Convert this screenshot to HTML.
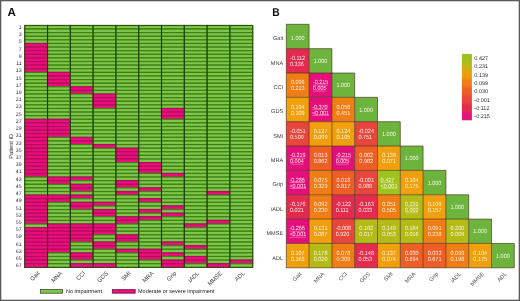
<!DOCTYPE html><html><head><meta charset="utf-8"><style>
html,body{margin:0;padding:0;background:#fff;}
svg{display:block;}
text{font-family:"Liberation Sans", sans-serif;text-rendering:geometricPrecision;}
</style></head><body>
<svg width="520" height="301" viewBox="0 0 520 301">
<rect x="0" y="0" width="520" height="301" fill="#fff"/>
<defs><filter id="soft" x="0" y="0" width="520" height="301" filterUnits="userSpaceOnUse"><feGaussianBlur stdDeviation="0.35"/></filter></defs>
<g filter="url(#soft)">
<text x="7.6" y="16.4" font-size="11.6" font-weight="bold" fill="#111">A</text>
<rect x="24.75" y="25.450" width="22.80" height="3.610" fill="#7ec54a" stroke="#3c8012" stroke-width="1.2"/>
<rect x="24.75" y="29.060" width="22.80" height="3.610" fill="#7ec54a" stroke="#3c8012" stroke-width="1.2"/>
<rect x="24.75" y="32.671" width="22.80" height="3.610" fill="#7ec54a" stroke="#3c8012" stroke-width="1.2"/>
<rect x="24.75" y="36.281" width="22.80" height="3.610" fill="#7ec54a" stroke="#3c8012" stroke-width="1.2"/>
<rect x="24.75" y="39.892" width="22.80" height="3.610" fill="#7ec54a" stroke="#3c8012" stroke-width="1.2"/>
<rect x="24.75" y="43.502" width="22.80" height="3.610" fill="#ec117c" stroke="#b00a5c" stroke-width="1.2"/>
<rect x="24.75" y="47.112" width="22.80" height="3.610" fill="#ec117c" stroke="#b00a5c" stroke-width="1.2"/>
<rect x="24.75" y="50.723" width="22.80" height="3.610" fill="#ec117c" stroke="#b00a5c" stroke-width="1.2"/>
<rect x="24.75" y="54.333" width="22.80" height="3.610" fill="#ec117c" stroke="#b00a5c" stroke-width="1.2"/>
<rect x="24.75" y="57.944" width="22.80" height="3.610" fill="#ec117c" stroke="#b00a5c" stroke-width="1.2"/>
<rect x="24.75" y="61.554" width="22.80" height="3.610" fill="#ec117c" stroke="#b00a5c" stroke-width="1.2"/>
<rect x="24.75" y="65.164" width="22.80" height="3.610" fill="#ec117c" stroke="#b00a5c" stroke-width="1.2"/>
<rect x="24.75" y="68.775" width="22.80" height="3.610" fill="#ec117c" stroke="#b00a5c" stroke-width="1.2"/>
<rect x="24.75" y="72.385" width="22.80" height="3.610" fill="#7ec54a" stroke="#3c8012" stroke-width="1.2"/>
<rect x="24.75" y="75.996" width="22.80" height="3.610" fill="#7ec54a" stroke="#3c8012" stroke-width="1.2"/>
<rect x="24.75" y="79.606" width="22.80" height="3.610" fill="#7ec54a" stroke="#3c8012" stroke-width="1.2"/>
<rect x="24.75" y="83.216" width="22.80" height="3.610" fill="#7ec54a" stroke="#3c8012" stroke-width="1.2"/>
<rect x="24.75" y="86.827" width="22.80" height="3.610" fill="#7ec54a" stroke="#3c8012" stroke-width="1.2"/>
<rect x="24.75" y="90.437" width="22.80" height="3.610" fill="#7ec54a" stroke="#3c8012" stroke-width="1.2"/>
<rect x="24.75" y="94.048" width="22.80" height="3.610" fill="#7ec54a" stroke="#3c8012" stroke-width="1.2"/>
<rect x="24.75" y="97.658" width="22.80" height="3.610" fill="#7ec54a" stroke="#3c8012" stroke-width="1.2"/>
<rect x="24.75" y="101.268" width="22.80" height="3.610" fill="#7ec54a" stroke="#3c8012" stroke-width="1.2"/>
<rect x="24.75" y="104.879" width="22.80" height="3.610" fill="#7ec54a" stroke="#3c8012" stroke-width="1.2"/>
<rect x="24.75" y="108.489" width="22.80" height="3.610" fill="#7ec54a" stroke="#3c8012" stroke-width="1.2"/>
<rect x="24.75" y="112.100" width="22.80" height="3.610" fill="#7ec54a" stroke="#3c8012" stroke-width="1.2"/>
<rect x="24.75" y="115.710" width="22.80" height="3.610" fill="#7ec54a" stroke="#3c8012" stroke-width="1.2"/>
<rect x="24.75" y="119.320" width="22.80" height="3.610" fill="#ec117c" stroke="#b00a5c" stroke-width="1.2"/>
<rect x="24.75" y="122.931" width="22.80" height="3.610" fill="#ec117c" stroke="#b00a5c" stroke-width="1.2"/>
<rect x="24.75" y="126.541" width="22.80" height="3.610" fill="#ec117c" stroke="#b00a5c" stroke-width="1.2"/>
<rect x="24.75" y="130.152" width="22.80" height="3.610" fill="#ec117c" stroke="#b00a5c" stroke-width="1.2"/>
<rect x="24.75" y="133.762" width="22.80" height="3.610" fill="#ec117c" stroke="#b00a5c" stroke-width="1.2"/>
<rect x="24.75" y="137.372" width="22.80" height="3.610" fill="#ec117c" stroke="#b00a5c" stroke-width="1.2"/>
<rect x="24.75" y="140.983" width="22.80" height="3.610" fill="#ec117c" stroke="#b00a5c" stroke-width="1.2"/>
<rect x="24.75" y="144.593" width="22.80" height="3.610" fill="#ec117c" stroke="#b00a5c" stroke-width="1.2"/>
<rect x="24.75" y="148.204" width="22.80" height="3.610" fill="#ec117c" stroke="#b00a5c" stroke-width="1.2"/>
<rect x="24.75" y="151.814" width="22.80" height="3.610" fill="#ec117c" stroke="#b00a5c" stroke-width="1.2"/>
<rect x="24.75" y="155.424" width="22.80" height="3.610" fill="#ec117c" stroke="#b00a5c" stroke-width="1.2"/>
<rect x="24.75" y="159.035" width="22.80" height="3.610" fill="#ec117c" stroke="#b00a5c" stroke-width="1.2"/>
<rect x="24.75" y="162.645" width="22.80" height="3.610" fill="#ec117c" stroke="#b00a5c" stroke-width="1.2"/>
<rect x="24.75" y="166.256" width="22.80" height="3.610" fill="#ec117c" stroke="#b00a5c" stroke-width="1.2"/>
<rect x="24.75" y="169.866" width="22.80" height="3.610" fill="#ec117c" stroke="#b00a5c" stroke-width="1.2"/>
<rect x="24.75" y="173.476" width="22.80" height="3.610" fill="#ec117c" stroke="#b00a5c" stroke-width="1.2"/>
<rect x="24.75" y="177.087" width="22.80" height="3.610" fill="#7ec54a" stroke="#3c8012" stroke-width="1.2"/>
<rect x="24.75" y="180.697" width="22.80" height="3.610" fill="#7ec54a" stroke="#3c8012" stroke-width="1.2"/>
<rect x="24.75" y="184.308" width="22.80" height="3.610" fill="#7ec54a" stroke="#3c8012" stroke-width="1.2"/>
<rect x="24.75" y="187.918" width="22.80" height="3.610" fill="#7ec54a" stroke="#3c8012" stroke-width="1.2"/>
<rect x="24.75" y="191.528" width="22.80" height="3.610" fill="#7ec54a" stroke="#3c8012" stroke-width="1.2"/>
<rect x="24.75" y="195.139" width="22.80" height="3.610" fill="#ec117c" stroke="#b00a5c" stroke-width="1.2"/>
<rect x="24.75" y="198.749" width="22.80" height="3.610" fill="#ec117c" stroke="#b00a5c" stroke-width="1.2"/>
<rect x="24.75" y="202.360" width="22.80" height="3.610" fill="#ec117c" stroke="#b00a5c" stroke-width="1.2"/>
<rect x="24.75" y="205.970" width="22.80" height="3.610" fill="#ec117c" stroke="#b00a5c" stroke-width="1.2"/>
<rect x="24.75" y="209.580" width="22.80" height="3.610" fill="#ec117c" stroke="#b00a5c" stroke-width="1.2"/>
<rect x="24.75" y="213.191" width="22.80" height="3.610" fill="#ec117c" stroke="#b00a5c" stroke-width="1.2"/>
<rect x="24.75" y="216.801" width="22.80" height="3.610" fill="#ec117c" stroke="#b00a5c" stroke-width="1.2"/>
<rect x="24.75" y="220.412" width="22.80" height="3.610" fill="#ec117c" stroke="#b00a5c" stroke-width="1.2"/>
<rect x="24.75" y="224.022" width="22.80" height="3.610" fill="#7ec54a" stroke="#3c8012" stroke-width="1.2"/>
<rect x="24.75" y="227.632" width="22.80" height="3.610" fill="#ec117c" stroke="#b00a5c" stroke-width="1.2"/>
<rect x="24.75" y="231.243" width="22.80" height="3.610" fill="#ec117c" stroke="#b00a5c" stroke-width="1.2"/>
<rect x="24.75" y="234.853" width="22.80" height="3.610" fill="#ec117c" stroke="#b00a5c" stroke-width="1.2"/>
<rect x="24.75" y="238.464" width="22.80" height="3.610" fill="#ec117c" stroke="#b00a5c" stroke-width="1.2"/>
<rect x="24.75" y="242.074" width="22.80" height="3.610" fill="#ec117c" stroke="#b00a5c" stroke-width="1.2"/>
<rect x="24.75" y="245.684" width="22.80" height="3.610" fill="#ec117c" stroke="#b00a5c" stroke-width="1.2"/>
<rect x="24.75" y="249.295" width="22.80" height="3.610" fill="#ec117c" stroke="#b00a5c" stroke-width="1.2"/>
<rect x="24.75" y="252.905" width="22.80" height="3.610" fill="#ec117c" stroke="#b00a5c" stroke-width="1.2"/>
<rect x="24.75" y="256.516" width="22.80" height="3.610" fill="#ec117c" stroke="#b00a5c" stroke-width="1.2"/>
<rect x="24.75" y="260.126" width="22.80" height="3.610" fill="#ec117c" stroke="#b00a5c" stroke-width="1.2"/>
<rect x="24.75" y="263.736" width="22.80" height="3.610" fill="#ec117c" stroke="#b00a5c" stroke-width="1.2"/>
<rect x="47.55" y="25.450" width="22.80" height="3.610" fill="#7ec54a" stroke="#3c8012" stroke-width="1.2"/>
<rect x="47.55" y="29.060" width="22.80" height="3.610" fill="#7ec54a" stroke="#3c8012" stroke-width="1.2"/>
<rect x="47.55" y="32.671" width="22.80" height="3.610" fill="#7ec54a" stroke="#3c8012" stroke-width="1.2"/>
<rect x="47.55" y="36.281" width="22.80" height="3.610" fill="#7ec54a" stroke="#3c8012" stroke-width="1.2"/>
<rect x="47.55" y="39.892" width="22.80" height="3.610" fill="#7ec54a" stroke="#3c8012" stroke-width="1.2"/>
<rect x="47.55" y="43.502" width="22.80" height="3.610" fill="#7ec54a" stroke="#3c8012" stroke-width="1.2"/>
<rect x="47.55" y="47.112" width="22.80" height="3.610" fill="#7ec54a" stroke="#3c8012" stroke-width="1.2"/>
<rect x="47.55" y="50.723" width="22.80" height="3.610" fill="#7ec54a" stroke="#3c8012" stroke-width="1.2"/>
<rect x="47.55" y="54.333" width="22.80" height="3.610" fill="#7ec54a" stroke="#3c8012" stroke-width="1.2"/>
<rect x="47.55" y="57.944" width="22.80" height="3.610" fill="#7ec54a" stroke="#3c8012" stroke-width="1.2"/>
<rect x="47.55" y="61.554" width="22.80" height="3.610" fill="#7ec54a" stroke="#3c8012" stroke-width="1.2"/>
<rect x="47.55" y="65.164" width="22.80" height="3.610" fill="#7ec54a" stroke="#3c8012" stroke-width="1.2"/>
<rect x="47.55" y="68.775" width="22.80" height="3.610" fill="#7ec54a" stroke="#3c8012" stroke-width="1.2"/>
<rect x="47.55" y="72.385" width="22.80" height="3.610" fill="#ec117c" stroke="#b00a5c" stroke-width="1.2"/>
<rect x="47.55" y="75.996" width="22.80" height="3.610" fill="#ec117c" stroke="#b00a5c" stroke-width="1.2"/>
<rect x="47.55" y="79.606" width="22.80" height="3.610" fill="#ec117c" stroke="#b00a5c" stroke-width="1.2"/>
<rect x="47.55" y="83.216" width="22.80" height="3.610" fill="#ec117c" stroke="#b00a5c" stroke-width="1.2"/>
<rect x="47.55" y="86.827" width="22.80" height="3.610" fill="#7ec54a" stroke="#3c8012" stroke-width="1.2"/>
<rect x="47.55" y="90.437" width="22.80" height="3.610" fill="#7ec54a" stroke="#3c8012" stroke-width="1.2"/>
<rect x="47.55" y="94.048" width="22.80" height="3.610" fill="#7ec54a" stroke="#3c8012" stroke-width="1.2"/>
<rect x="47.55" y="97.658" width="22.80" height="3.610" fill="#7ec54a" stroke="#3c8012" stroke-width="1.2"/>
<rect x="47.55" y="101.268" width="22.80" height="3.610" fill="#7ec54a" stroke="#3c8012" stroke-width="1.2"/>
<rect x="47.55" y="104.879" width="22.80" height="3.610" fill="#7ec54a" stroke="#3c8012" stroke-width="1.2"/>
<rect x="47.55" y="108.489" width="22.80" height="3.610" fill="#7ec54a" stroke="#3c8012" stroke-width="1.2"/>
<rect x="47.55" y="112.100" width="22.80" height="3.610" fill="#7ec54a" stroke="#3c8012" stroke-width="1.2"/>
<rect x="47.55" y="115.710" width="22.80" height="3.610" fill="#7ec54a" stroke="#3c8012" stroke-width="1.2"/>
<rect x="47.55" y="119.320" width="22.80" height="3.610" fill="#ec117c" stroke="#b00a5c" stroke-width="1.2"/>
<rect x="47.55" y="122.931" width="22.80" height="3.610" fill="#ec117c" stroke="#b00a5c" stroke-width="1.2"/>
<rect x="47.55" y="126.541" width="22.80" height="3.610" fill="#ec117c" stroke="#b00a5c" stroke-width="1.2"/>
<rect x="47.55" y="130.152" width="22.80" height="3.610" fill="#ec117c" stroke="#b00a5c" stroke-width="1.2"/>
<rect x="47.55" y="133.762" width="22.80" height="3.610" fill="#ec117c" stroke="#b00a5c" stroke-width="1.2"/>
<rect x="47.55" y="137.372" width="22.80" height="3.610" fill="#7ec54a" stroke="#3c8012" stroke-width="1.2"/>
<rect x="47.55" y="140.983" width="22.80" height="3.610" fill="#7ec54a" stroke="#3c8012" stroke-width="1.2"/>
<rect x="47.55" y="144.593" width="22.80" height="3.610" fill="#7ec54a" stroke="#3c8012" stroke-width="1.2"/>
<rect x="47.55" y="148.204" width="22.80" height="3.610" fill="#7ec54a" stroke="#3c8012" stroke-width="1.2"/>
<rect x="47.55" y="151.814" width="22.80" height="3.610" fill="#7ec54a" stroke="#3c8012" stroke-width="1.2"/>
<rect x="47.55" y="155.424" width="22.80" height="3.610" fill="#7ec54a" stroke="#3c8012" stroke-width="1.2"/>
<rect x="47.55" y="159.035" width="22.80" height="3.610" fill="#7ec54a" stroke="#3c8012" stroke-width="1.2"/>
<rect x="47.55" y="162.645" width="22.80" height="3.610" fill="#7ec54a" stroke="#3c8012" stroke-width="1.2"/>
<rect x="47.55" y="166.256" width="22.80" height="3.610" fill="#7ec54a" stroke="#3c8012" stroke-width="1.2"/>
<rect x="47.55" y="169.866" width="22.80" height="3.610" fill="#7ec54a" stroke="#3c8012" stroke-width="1.2"/>
<rect x="47.55" y="173.476" width="22.80" height="3.610" fill="#7ec54a" stroke="#3c8012" stroke-width="1.2"/>
<rect x="47.55" y="177.087" width="22.80" height="3.610" fill="#ec117c" stroke="#b00a5c" stroke-width="1.2"/>
<rect x="47.55" y="180.697" width="22.80" height="3.610" fill="#ec117c" stroke="#b00a5c" stroke-width="1.2"/>
<rect x="47.55" y="184.308" width="22.80" height="3.610" fill="#7ec54a" stroke="#3c8012" stroke-width="1.2"/>
<rect x="47.55" y="187.918" width="22.80" height="3.610" fill="#7ec54a" stroke="#3c8012" stroke-width="1.2"/>
<rect x="47.55" y="191.528" width="22.80" height="3.610" fill="#7ec54a" stroke="#3c8012" stroke-width="1.2"/>
<rect x="47.55" y="195.139" width="22.80" height="3.610" fill="#ec117c" stroke="#b00a5c" stroke-width="1.2"/>
<rect x="47.55" y="198.749" width="22.80" height="3.610" fill="#ec117c" stroke="#b00a5c" stroke-width="1.2"/>
<rect x="47.55" y="202.360" width="22.80" height="3.610" fill="#7ec54a" stroke="#3c8012" stroke-width="1.2"/>
<rect x="47.55" y="205.970" width="22.80" height="3.610" fill="#7ec54a" stroke="#3c8012" stroke-width="1.2"/>
<rect x="47.55" y="209.580" width="22.80" height="3.610" fill="#7ec54a" stroke="#3c8012" stroke-width="1.2"/>
<rect x="47.55" y="213.191" width="22.80" height="3.610" fill="#7ec54a" stroke="#3c8012" stroke-width="1.2"/>
<rect x="47.55" y="216.801" width="22.80" height="3.610" fill="#7ec54a" stroke="#3c8012" stroke-width="1.2"/>
<rect x="47.55" y="220.412" width="22.80" height="3.610" fill="#7ec54a" stroke="#3c8012" stroke-width="1.2"/>
<rect x="47.55" y="224.022" width="22.80" height="3.610" fill="#ec117c" stroke="#b00a5c" stroke-width="1.2"/>
<rect x="47.55" y="227.632" width="22.80" height="3.610" fill="#ec117c" stroke="#b00a5c" stroke-width="1.2"/>
<rect x="47.55" y="231.243" width="22.80" height="3.610" fill="#ec117c" stroke="#b00a5c" stroke-width="1.2"/>
<rect x="47.55" y="234.853" width="22.80" height="3.610" fill="#ec117c" stroke="#b00a5c" stroke-width="1.2"/>
<rect x="47.55" y="238.464" width="22.80" height="3.610" fill="#ec117c" stroke="#b00a5c" stroke-width="1.2"/>
<rect x="47.55" y="242.074" width="22.80" height="3.610" fill="#ec117c" stroke="#b00a5c" stroke-width="1.2"/>
<rect x="47.55" y="245.684" width="22.80" height="3.610" fill="#ec117c" stroke="#b00a5c" stroke-width="1.2"/>
<rect x="47.55" y="249.295" width="22.80" height="3.610" fill="#ec117c" stroke="#b00a5c" stroke-width="1.2"/>
<rect x="47.55" y="252.905" width="22.80" height="3.610" fill="#7ec54a" stroke="#3c8012" stroke-width="1.2"/>
<rect x="47.55" y="256.516" width="22.80" height="3.610" fill="#7ec54a" stroke="#3c8012" stroke-width="1.2"/>
<rect x="47.55" y="260.126" width="22.80" height="3.610" fill="#7ec54a" stroke="#3c8012" stroke-width="1.2"/>
<rect x="47.55" y="263.736" width="22.80" height="3.610" fill="#7ec54a" stroke="#3c8012" stroke-width="1.2"/>
<rect x="70.34" y="25.450" width="22.80" height="3.610" fill="#7ec54a" stroke="#3c8012" stroke-width="1.2"/>
<rect x="70.34" y="29.060" width="22.80" height="3.610" fill="#7ec54a" stroke="#3c8012" stroke-width="1.2"/>
<rect x="70.34" y="32.671" width="22.80" height="3.610" fill="#7ec54a" stroke="#3c8012" stroke-width="1.2"/>
<rect x="70.34" y="36.281" width="22.80" height="3.610" fill="#7ec54a" stroke="#3c8012" stroke-width="1.2"/>
<rect x="70.34" y="39.892" width="22.80" height="3.610" fill="#7ec54a" stroke="#3c8012" stroke-width="1.2"/>
<rect x="70.34" y="43.502" width="22.80" height="3.610" fill="#7ec54a" stroke="#3c8012" stroke-width="1.2"/>
<rect x="70.34" y="47.112" width="22.80" height="3.610" fill="#7ec54a" stroke="#3c8012" stroke-width="1.2"/>
<rect x="70.34" y="50.723" width="22.80" height="3.610" fill="#7ec54a" stroke="#3c8012" stroke-width="1.2"/>
<rect x="70.34" y="54.333" width="22.80" height="3.610" fill="#7ec54a" stroke="#3c8012" stroke-width="1.2"/>
<rect x="70.34" y="57.944" width="22.80" height="3.610" fill="#7ec54a" stroke="#3c8012" stroke-width="1.2"/>
<rect x="70.34" y="61.554" width="22.80" height="3.610" fill="#7ec54a" stroke="#3c8012" stroke-width="1.2"/>
<rect x="70.34" y="65.164" width="22.80" height="3.610" fill="#7ec54a" stroke="#3c8012" stroke-width="1.2"/>
<rect x="70.34" y="68.775" width="22.80" height="3.610" fill="#7ec54a" stroke="#3c8012" stroke-width="1.2"/>
<rect x="70.34" y="72.385" width="22.80" height="3.610" fill="#7ec54a" stroke="#3c8012" stroke-width="1.2"/>
<rect x="70.34" y="75.996" width="22.80" height="3.610" fill="#7ec54a" stroke="#3c8012" stroke-width="1.2"/>
<rect x="70.34" y="79.606" width="22.80" height="3.610" fill="#7ec54a" stroke="#3c8012" stroke-width="1.2"/>
<rect x="70.34" y="83.216" width="22.80" height="3.610" fill="#7ec54a" stroke="#3c8012" stroke-width="1.2"/>
<rect x="70.34" y="86.827" width="22.80" height="3.610" fill="#ec117c" stroke="#b00a5c" stroke-width="1.2"/>
<rect x="70.34" y="90.437" width="22.80" height="3.610" fill="#ec117c" stroke="#b00a5c" stroke-width="1.2"/>
<rect x="70.34" y="94.048" width="22.80" height="3.610" fill="#7ec54a" stroke="#3c8012" stroke-width="1.2"/>
<rect x="70.34" y="97.658" width="22.80" height="3.610" fill="#7ec54a" stroke="#3c8012" stroke-width="1.2"/>
<rect x="70.34" y="101.268" width="22.80" height="3.610" fill="#7ec54a" stroke="#3c8012" stroke-width="1.2"/>
<rect x="70.34" y="104.879" width="22.80" height="3.610" fill="#7ec54a" stroke="#3c8012" stroke-width="1.2"/>
<rect x="70.34" y="108.489" width="22.80" height="3.610" fill="#7ec54a" stroke="#3c8012" stroke-width="1.2"/>
<rect x="70.34" y="112.100" width="22.80" height="3.610" fill="#7ec54a" stroke="#3c8012" stroke-width="1.2"/>
<rect x="70.34" y="115.710" width="22.80" height="3.610" fill="#7ec54a" stroke="#3c8012" stroke-width="1.2"/>
<rect x="70.34" y="119.320" width="22.80" height="3.610" fill="#7ec54a" stroke="#3c8012" stroke-width="1.2"/>
<rect x="70.34" y="122.931" width="22.80" height="3.610" fill="#7ec54a" stroke="#3c8012" stroke-width="1.2"/>
<rect x="70.34" y="126.541" width="22.80" height="3.610" fill="#7ec54a" stroke="#3c8012" stroke-width="1.2"/>
<rect x="70.34" y="130.152" width="22.80" height="3.610" fill="#7ec54a" stroke="#3c8012" stroke-width="1.2"/>
<rect x="70.34" y="133.762" width="22.80" height="3.610" fill="#7ec54a" stroke="#3c8012" stroke-width="1.2"/>
<rect x="70.34" y="137.372" width="22.80" height="3.610" fill="#ec117c" stroke="#b00a5c" stroke-width="1.2"/>
<rect x="70.34" y="140.983" width="22.80" height="3.610" fill="#ec117c" stroke="#b00a5c" stroke-width="1.2"/>
<rect x="70.34" y="144.593" width="22.80" height="3.610" fill="#7ec54a" stroke="#3c8012" stroke-width="1.2"/>
<rect x="70.34" y="148.204" width="22.80" height="3.610" fill="#7ec54a" stroke="#3c8012" stroke-width="1.2"/>
<rect x="70.34" y="151.814" width="22.80" height="3.610" fill="#7ec54a" stroke="#3c8012" stroke-width="1.2"/>
<rect x="70.34" y="155.424" width="22.80" height="3.610" fill="#7ec54a" stroke="#3c8012" stroke-width="1.2"/>
<rect x="70.34" y="159.035" width="22.80" height="3.610" fill="#7ec54a" stroke="#3c8012" stroke-width="1.2"/>
<rect x="70.34" y="162.645" width="22.80" height="3.610" fill="#7ec54a" stroke="#3c8012" stroke-width="1.2"/>
<rect x="70.34" y="166.256" width="22.80" height="3.610" fill="#7ec54a" stroke="#3c8012" stroke-width="1.2"/>
<rect x="70.34" y="169.866" width="22.80" height="3.610" fill="#7ec54a" stroke="#3c8012" stroke-width="1.2"/>
<rect x="70.34" y="173.476" width="22.80" height="3.610" fill="#7ec54a" stroke="#3c8012" stroke-width="1.2"/>
<rect x="70.34" y="177.087" width="22.80" height="3.610" fill="#ec117c" stroke="#b00a5c" stroke-width="1.2"/>
<rect x="70.34" y="180.697" width="22.80" height="3.610" fill="#7ec54a" stroke="#3c8012" stroke-width="1.2"/>
<rect x="70.34" y="184.308" width="22.80" height="3.610" fill="#ec117c" stroke="#b00a5c" stroke-width="1.2"/>
<rect x="70.34" y="187.918" width="22.80" height="3.610" fill="#ec117c" stroke="#b00a5c" stroke-width="1.2"/>
<rect x="70.34" y="191.528" width="22.80" height="3.610" fill="#7ec54a" stroke="#3c8012" stroke-width="1.2"/>
<rect x="70.34" y="195.139" width="22.80" height="3.610" fill="#ec117c" stroke="#b00a5c" stroke-width="1.2"/>
<rect x="70.34" y="198.749" width="22.80" height="3.610" fill="#7ec54a" stroke="#3c8012" stroke-width="1.2"/>
<rect x="70.34" y="202.360" width="22.80" height="3.610" fill="#ec117c" stroke="#b00a5c" stroke-width="1.2"/>
<rect x="70.34" y="205.970" width="22.80" height="3.610" fill="#ec117c" stroke="#b00a5c" stroke-width="1.2"/>
<rect x="70.34" y="209.580" width="22.80" height="3.610" fill="#7ec54a" stroke="#3c8012" stroke-width="1.2"/>
<rect x="70.34" y="213.191" width="22.80" height="3.610" fill="#7ec54a" stroke="#3c8012" stroke-width="1.2"/>
<rect x="70.34" y="216.801" width="22.80" height="3.610" fill="#7ec54a" stroke="#3c8012" stroke-width="1.2"/>
<rect x="70.34" y="220.412" width="22.80" height="3.610" fill="#7ec54a" stroke="#3c8012" stroke-width="1.2"/>
<rect x="70.34" y="224.022" width="22.80" height="3.610" fill="#ec117c" stroke="#b00a5c" stroke-width="1.2"/>
<rect x="70.34" y="227.632" width="22.80" height="3.610" fill="#ec117c" stroke="#b00a5c" stroke-width="1.2"/>
<rect x="70.34" y="231.243" width="22.80" height="3.610" fill="#ec117c" stroke="#b00a5c" stroke-width="1.2"/>
<rect x="70.34" y="234.853" width="22.80" height="3.610" fill="#ec117c" stroke="#b00a5c" stroke-width="1.2"/>
<rect x="70.34" y="238.464" width="22.80" height="3.610" fill="#ec117c" stroke="#b00a5c" stroke-width="1.2"/>
<rect x="70.34" y="242.074" width="22.80" height="3.610" fill="#7ec54a" stroke="#3c8012" stroke-width="1.2"/>
<rect x="70.34" y="245.684" width="22.80" height="3.610" fill="#7ec54a" stroke="#3c8012" stroke-width="1.2"/>
<rect x="70.34" y="249.295" width="22.80" height="3.610" fill="#7ec54a" stroke="#3c8012" stroke-width="1.2"/>
<rect x="70.34" y="252.905" width="22.80" height="3.610" fill="#ec117c" stroke="#b00a5c" stroke-width="1.2"/>
<rect x="70.34" y="256.516" width="22.80" height="3.610" fill="#ec117c" stroke="#b00a5c" stroke-width="1.2"/>
<rect x="70.34" y="260.126" width="22.80" height="3.610" fill="#7ec54a" stroke="#3c8012" stroke-width="1.2"/>
<rect x="70.34" y="263.736" width="22.80" height="3.610" fill="#ec117c" stroke="#b00a5c" stroke-width="1.2"/>
<rect x="93.14" y="25.450" width="22.80" height="3.610" fill="#7ec54a" stroke="#3c8012" stroke-width="1.2"/>
<rect x="93.14" y="29.060" width="22.80" height="3.610" fill="#7ec54a" stroke="#3c8012" stroke-width="1.2"/>
<rect x="93.14" y="32.671" width="22.80" height="3.610" fill="#7ec54a" stroke="#3c8012" stroke-width="1.2"/>
<rect x="93.14" y="36.281" width="22.80" height="3.610" fill="#7ec54a" stroke="#3c8012" stroke-width="1.2"/>
<rect x="93.14" y="39.892" width="22.80" height="3.610" fill="#7ec54a" stroke="#3c8012" stroke-width="1.2"/>
<rect x="93.14" y="43.502" width="22.80" height="3.610" fill="#7ec54a" stroke="#3c8012" stroke-width="1.2"/>
<rect x="93.14" y="47.112" width="22.80" height="3.610" fill="#7ec54a" stroke="#3c8012" stroke-width="1.2"/>
<rect x="93.14" y="50.723" width="22.80" height="3.610" fill="#7ec54a" stroke="#3c8012" stroke-width="1.2"/>
<rect x="93.14" y="54.333" width="22.80" height="3.610" fill="#7ec54a" stroke="#3c8012" stroke-width="1.2"/>
<rect x="93.14" y="57.944" width="22.80" height="3.610" fill="#7ec54a" stroke="#3c8012" stroke-width="1.2"/>
<rect x="93.14" y="61.554" width="22.80" height="3.610" fill="#7ec54a" stroke="#3c8012" stroke-width="1.2"/>
<rect x="93.14" y="65.164" width="22.80" height="3.610" fill="#7ec54a" stroke="#3c8012" stroke-width="1.2"/>
<rect x="93.14" y="68.775" width="22.80" height="3.610" fill="#7ec54a" stroke="#3c8012" stroke-width="1.2"/>
<rect x="93.14" y="72.385" width="22.80" height="3.610" fill="#7ec54a" stroke="#3c8012" stroke-width="1.2"/>
<rect x="93.14" y="75.996" width="22.80" height="3.610" fill="#7ec54a" stroke="#3c8012" stroke-width="1.2"/>
<rect x="93.14" y="79.606" width="22.80" height="3.610" fill="#7ec54a" stroke="#3c8012" stroke-width="1.2"/>
<rect x="93.14" y="83.216" width="22.80" height="3.610" fill="#7ec54a" stroke="#3c8012" stroke-width="1.2"/>
<rect x="93.14" y="86.827" width="22.80" height="3.610" fill="#7ec54a" stroke="#3c8012" stroke-width="1.2"/>
<rect x="93.14" y="90.437" width="22.80" height="3.610" fill="#7ec54a" stroke="#3c8012" stroke-width="1.2"/>
<rect x="93.14" y="94.048" width="22.80" height="3.610" fill="#ec117c" stroke="#b00a5c" stroke-width="1.2"/>
<rect x="93.14" y="97.658" width="22.80" height="3.610" fill="#ec117c" stroke="#b00a5c" stroke-width="1.2"/>
<rect x="93.14" y="101.268" width="22.80" height="3.610" fill="#ec117c" stroke="#b00a5c" stroke-width="1.2"/>
<rect x="93.14" y="104.879" width="22.80" height="3.610" fill="#ec117c" stroke="#b00a5c" stroke-width="1.2"/>
<rect x="93.14" y="108.489" width="22.80" height="3.610" fill="#7ec54a" stroke="#3c8012" stroke-width="1.2"/>
<rect x="93.14" y="112.100" width="22.80" height="3.610" fill="#7ec54a" stroke="#3c8012" stroke-width="1.2"/>
<rect x="93.14" y="115.710" width="22.80" height="3.610" fill="#7ec54a" stroke="#3c8012" stroke-width="1.2"/>
<rect x="93.14" y="119.320" width="22.80" height="3.610" fill="#7ec54a" stroke="#3c8012" stroke-width="1.2"/>
<rect x="93.14" y="122.931" width="22.80" height="3.610" fill="#7ec54a" stroke="#3c8012" stroke-width="1.2"/>
<rect x="93.14" y="126.541" width="22.80" height="3.610" fill="#7ec54a" stroke="#3c8012" stroke-width="1.2"/>
<rect x="93.14" y="130.152" width="22.80" height="3.610" fill="#7ec54a" stroke="#3c8012" stroke-width="1.2"/>
<rect x="93.14" y="133.762" width="22.80" height="3.610" fill="#7ec54a" stroke="#3c8012" stroke-width="1.2"/>
<rect x="93.14" y="137.372" width="22.80" height="3.610" fill="#7ec54a" stroke="#3c8012" stroke-width="1.2"/>
<rect x="93.14" y="140.983" width="22.80" height="3.610" fill="#7ec54a" stroke="#3c8012" stroke-width="1.2"/>
<rect x="93.14" y="144.593" width="22.80" height="3.610" fill="#ec117c" stroke="#b00a5c" stroke-width="1.2"/>
<rect x="93.14" y="148.204" width="22.80" height="3.610" fill="#7ec54a" stroke="#3c8012" stroke-width="1.2"/>
<rect x="93.14" y="151.814" width="22.80" height="3.610" fill="#7ec54a" stroke="#3c8012" stroke-width="1.2"/>
<rect x="93.14" y="155.424" width="22.80" height="3.610" fill="#7ec54a" stroke="#3c8012" stroke-width="1.2"/>
<rect x="93.14" y="159.035" width="22.80" height="3.610" fill="#7ec54a" stroke="#3c8012" stroke-width="1.2"/>
<rect x="93.14" y="162.645" width="22.80" height="3.610" fill="#7ec54a" stroke="#3c8012" stroke-width="1.2"/>
<rect x="93.14" y="166.256" width="22.80" height="3.610" fill="#7ec54a" stroke="#3c8012" stroke-width="1.2"/>
<rect x="93.14" y="169.866" width="22.80" height="3.610" fill="#7ec54a" stroke="#3c8012" stroke-width="1.2"/>
<rect x="93.14" y="173.476" width="22.80" height="3.610" fill="#7ec54a" stroke="#3c8012" stroke-width="1.2"/>
<rect x="93.14" y="177.087" width="22.80" height="3.610" fill="#7ec54a" stroke="#3c8012" stroke-width="1.2"/>
<rect x="93.14" y="180.697" width="22.80" height="3.610" fill="#7ec54a" stroke="#3c8012" stroke-width="1.2"/>
<rect x="93.14" y="184.308" width="22.80" height="3.610" fill="#7ec54a" stroke="#3c8012" stroke-width="1.2"/>
<rect x="93.14" y="187.918" width="22.80" height="3.610" fill="#7ec54a" stroke="#3c8012" stroke-width="1.2"/>
<rect x="93.14" y="191.528" width="22.80" height="3.610" fill="#7ec54a" stroke="#3c8012" stroke-width="1.2"/>
<rect x="93.14" y="195.139" width="22.80" height="3.610" fill="#7ec54a" stroke="#3c8012" stroke-width="1.2"/>
<rect x="93.14" y="198.749" width="22.80" height="3.610" fill="#7ec54a" stroke="#3c8012" stroke-width="1.2"/>
<rect x="93.14" y="202.360" width="22.80" height="3.610" fill="#ec117c" stroke="#b00a5c" stroke-width="1.2"/>
<rect x="93.14" y="205.970" width="22.80" height="3.610" fill="#7ec54a" stroke="#3c8012" stroke-width="1.2"/>
<rect x="93.14" y="209.580" width="22.80" height="3.610" fill="#ec117c" stroke="#b00a5c" stroke-width="1.2"/>
<rect x="93.14" y="213.191" width="22.80" height="3.610" fill="#ec117c" stroke="#b00a5c" stroke-width="1.2"/>
<rect x="93.14" y="216.801" width="22.80" height="3.610" fill="#7ec54a" stroke="#3c8012" stroke-width="1.2"/>
<rect x="93.14" y="220.412" width="22.80" height="3.610" fill="#7ec54a" stroke="#3c8012" stroke-width="1.2"/>
<rect x="93.14" y="224.022" width="22.80" height="3.610" fill="#ec117c" stroke="#b00a5c" stroke-width="1.2"/>
<rect x="93.14" y="227.632" width="22.80" height="3.610" fill="#ec117c" stroke="#b00a5c" stroke-width="1.2"/>
<rect x="93.14" y="231.243" width="22.80" height="3.610" fill="#ec117c" stroke="#b00a5c" stroke-width="1.2"/>
<rect x="93.14" y="234.853" width="22.80" height="3.610" fill="#7ec54a" stroke="#3c8012" stroke-width="1.2"/>
<rect x="93.14" y="238.464" width="22.80" height="3.610" fill="#7ec54a" stroke="#3c8012" stroke-width="1.2"/>
<rect x="93.14" y="242.074" width="22.80" height="3.610" fill="#ec117c" stroke="#b00a5c" stroke-width="1.2"/>
<rect x="93.14" y="245.684" width="22.80" height="3.610" fill="#ec117c" stroke="#b00a5c" stroke-width="1.2"/>
<rect x="93.14" y="249.295" width="22.80" height="3.610" fill="#7ec54a" stroke="#3c8012" stroke-width="1.2"/>
<rect x="93.14" y="252.905" width="22.80" height="3.610" fill="#7ec54a" stroke="#3c8012" stroke-width="1.2"/>
<rect x="93.14" y="256.516" width="22.80" height="3.610" fill="#7ec54a" stroke="#3c8012" stroke-width="1.2"/>
<rect x="93.14" y="260.126" width="22.80" height="3.610" fill="#7ec54a" stroke="#3c8012" stroke-width="1.2"/>
<rect x="93.14" y="263.736" width="22.80" height="3.610" fill="#ec117c" stroke="#b00a5c" stroke-width="1.2"/>
<rect x="115.93" y="25.450" width="22.80" height="3.610" fill="#7ec54a" stroke="#3c8012" stroke-width="1.2"/>
<rect x="115.93" y="29.060" width="22.80" height="3.610" fill="#7ec54a" stroke="#3c8012" stroke-width="1.2"/>
<rect x="115.93" y="32.671" width="22.80" height="3.610" fill="#7ec54a" stroke="#3c8012" stroke-width="1.2"/>
<rect x="115.93" y="36.281" width="22.80" height="3.610" fill="#7ec54a" stroke="#3c8012" stroke-width="1.2"/>
<rect x="115.93" y="39.892" width="22.80" height="3.610" fill="#7ec54a" stroke="#3c8012" stroke-width="1.2"/>
<rect x="115.93" y="43.502" width="22.80" height="3.610" fill="#7ec54a" stroke="#3c8012" stroke-width="1.2"/>
<rect x="115.93" y="47.112" width="22.80" height="3.610" fill="#7ec54a" stroke="#3c8012" stroke-width="1.2"/>
<rect x="115.93" y="50.723" width="22.80" height="3.610" fill="#7ec54a" stroke="#3c8012" stroke-width="1.2"/>
<rect x="115.93" y="54.333" width="22.80" height="3.610" fill="#7ec54a" stroke="#3c8012" stroke-width="1.2"/>
<rect x="115.93" y="57.944" width="22.80" height="3.610" fill="#7ec54a" stroke="#3c8012" stroke-width="1.2"/>
<rect x="115.93" y="61.554" width="22.80" height="3.610" fill="#7ec54a" stroke="#3c8012" stroke-width="1.2"/>
<rect x="115.93" y="65.164" width="22.80" height="3.610" fill="#7ec54a" stroke="#3c8012" stroke-width="1.2"/>
<rect x="115.93" y="68.775" width="22.80" height="3.610" fill="#7ec54a" stroke="#3c8012" stroke-width="1.2"/>
<rect x="115.93" y="72.385" width="22.80" height="3.610" fill="#7ec54a" stroke="#3c8012" stroke-width="1.2"/>
<rect x="115.93" y="75.996" width="22.80" height="3.610" fill="#7ec54a" stroke="#3c8012" stroke-width="1.2"/>
<rect x="115.93" y="79.606" width="22.80" height="3.610" fill="#7ec54a" stroke="#3c8012" stroke-width="1.2"/>
<rect x="115.93" y="83.216" width="22.80" height="3.610" fill="#7ec54a" stroke="#3c8012" stroke-width="1.2"/>
<rect x="115.93" y="86.827" width="22.80" height="3.610" fill="#7ec54a" stroke="#3c8012" stroke-width="1.2"/>
<rect x="115.93" y="90.437" width="22.80" height="3.610" fill="#7ec54a" stroke="#3c8012" stroke-width="1.2"/>
<rect x="115.93" y="94.048" width="22.80" height="3.610" fill="#7ec54a" stroke="#3c8012" stroke-width="1.2"/>
<rect x="115.93" y="97.658" width="22.80" height="3.610" fill="#7ec54a" stroke="#3c8012" stroke-width="1.2"/>
<rect x="115.93" y="101.268" width="22.80" height="3.610" fill="#7ec54a" stroke="#3c8012" stroke-width="1.2"/>
<rect x="115.93" y="104.879" width="22.80" height="3.610" fill="#7ec54a" stroke="#3c8012" stroke-width="1.2"/>
<rect x="115.93" y="108.489" width="22.80" height="3.610" fill="#7ec54a" stroke="#3c8012" stroke-width="1.2"/>
<rect x="115.93" y="112.100" width="22.80" height="3.610" fill="#7ec54a" stroke="#3c8012" stroke-width="1.2"/>
<rect x="115.93" y="115.710" width="22.80" height="3.610" fill="#7ec54a" stroke="#3c8012" stroke-width="1.2"/>
<rect x="115.93" y="119.320" width="22.80" height="3.610" fill="#7ec54a" stroke="#3c8012" stroke-width="1.2"/>
<rect x="115.93" y="122.931" width="22.80" height="3.610" fill="#7ec54a" stroke="#3c8012" stroke-width="1.2"/>
<rect x="115.93" y="126.541" width="22.80" height="3.610" fill="#7ec54a" stroke="#3c8012" stroke-width="1.2"/>
<rect x="115.93" y="130.152" width="22.80" height="3.610" fill="#7ec54a" stroke="#3c8012" stroke-width="1.2"/>
<rect x="115.93" y="133.762" width="22.80" height="3.610" fill="#7ec54a" stroke="#3c8012" stroke-width="1.2"/>
<rect x="115.93" y="137.372" width="22.80" height="3.610" fill="#7ec54a" stroke="#3c8012" stroke-width="1.2"/>
<rect x="115.93" y="140.983" width="22.80" height="3.610" fill="#7ec54a" stroke="#3c8012" stroke-width="1.2"/>
<rect x="115.93" y="144.593" width="22.80" height="3.610" fill="#7ec54a" stroke="#3c8012" stroke-width="1.2"/>
<rect x="115.93" y="148.204" width="22.80" height="3.610" fill="#ec117c" stroke="#b00a5c" stroke-width="1.2"/>
<rect x="115.93" y="151.814" width="22.80" height="3.610" fill="#ec117c" stroke="#b00a5c" stroke-width="1.2"/>
<rect x="115.93" y="155.424" width="22.80" height="3.610" fill="#ec117c" stroke="#b00a5c" stroke-width="1.2"/>
<rect x="115.93" y="159.035" width="22.80" height="3.610" fill="#ec117c" stroke="#b00a5c" stroke-width="1.2"/>
<rect x="115.93" y="162.645" width="22.80" height="3.610" fill="#7ec54a" stroke="#3c8012" stroke-width="1.2"/>
<rect x="115.93" y="166.256" width="22.80" height="3.610" fill="#7ec54a" stroke="#3c8012" stroke-width="1.2"/>
<rect x="115.93" y="169.866" width="22.80" height="3.610" fill="#7ec54a" stroke="#3c8012" stroke-width="1.2"/>
<rect x="115.93" y="173.476" width="22.80" height="3.610" fill="#7ec54a" stroke="#3c8012" stroke-width="1.2"/>
<rect x="115.93" y="177.087" width="22.80" height="3.610" fill="#7ec54a" stroke="#3c8012" stroke-width="1.2"/>
<rect x="115.93" y="180.697" width="22.80" height="3.610" fill="#ec117c" stroke="#b00a5c" stroke-width="1.2"/>
<rect x="115.93" y="184.308" width="22.80" height="3.610" fill="#ec117c" stroke="#b00a5c" stroke-width="1.2"/>
<rect x="115.93" y="187.918" width="22.80" height="3.610" fill="#7ec54a" stroke="#3c8012" stroke-width="1.2"/>
<rect x="115.93" y="191.528" width="22.80" height="3.610" fill="#ec117c" stroke="#b00a5c" stroke-width="1.2"/>
<rect x="115.93" y="195.139" width="22.80" height="3.610" fill="#7ec54a" stroke="#3c8012" stroke-width="1.2"/>
<rect x="115.93" y="198.749" width="22.80" height="3.610" fill="#7ec54a" stroke="#3c8012" stroke-width="1.2"/>
<rect x="115.93" y="202.360" width="22.80" height="3.610" fill="#7ec54a" stroke="#3c8012" stroke-width="1.2"/>
<rect x="115.93" y="205.970" width="22.80" height="3.610" fill="#7ec54a" stroke="#3c8012" stroke-width="1.2"/>
<rect x="115.93" y="209.580" width="22.80" height="3.610" fill="#7ec54a" stroke="#3c8012" stroke-width="1.2"/>
<rect x="115.93" y="213.191" width="22.80" height="3.610" fill="#7ec54a" stroke="#3c8012" stroke-width="1.2"/>
<rect x="115.93" y="216.801" width="22.80" height="3.610" fill="#ec117c" stroke="#b00a5c" stroke-width="1.2"/>
<rect x="115.93" y="220.412" width="22.80" height="3.610" fill="#ec117c" stroke="#b00a5c" stroke-width="1.2"/>
<rect x="115.93" y="224.022" width="22.80" height="3.610" fill="#7ec54a" stroke="#3c8012" stroke-width="1.2"/>
<rect x="115.93" y="227.632" width="22.80" height="3.610" fill="#7ec54a" stroke="#3c8012" stroke-width="1.2"/>
<rect x="115.93" y="231.243" width="22.80" height="3.610" fill="#7ec54a" stroke="#3c8012" stroke-width="1.2"/>
<rect x="115.93" y="234.853" width="22.80" height="3.610" fill="#ec117c" stroke="#b00a5c" stroke-width="1.2"/>
<rect x="115.93" y="238.464" width="22.80" height="3.610" fill="#ec117c" stroke="#b00a5c" stroke-width="1.2"/>
<rect x="115.93" y="242.074" width="22.80" height="3.610" fill="#7ec54a" stroke="#3c8012" stroke-width="1.2"/>
<rect x="115.93" y="245.684" width="22.80" height="3.610" fill="#7ec54a" stroke="#3c8012" stroke-width="1.2"/>
<rect x="115.93" y="249.295" width="22.80" height="3.610" fill="#ec117c" stroke="#b00a5c" stroke-width="1.2"/>
<rect x="115.93" y="252.905" width="22.80" height="3.610" fill="#7ec54a" stroke="#3c8012" stroke-width="1.2"/>
<rect x="115.93" y="256.516" width="22.80" height="3.610" fill="#7ec54a" stroke="#3c8012" stroke-width="1.2"/>
<rect x="115.93" y="260.126" width="22.80" height="3.610" fill="#7ec54a" stroke="#3c8012" stroke-width="1.2"/>
<rect x="115.93" y="263.736" width="22.80" height="3.610" fill="#7ec54a" stroke="#3c8012" stroke-width="1.2"/>
<rect x="138.73" y="25.450" width="22.80" height="3.610" fill="#7ec54a" stroke="#3c8012" stroke-width="1.2"/>
<rect x="138.73" y="29.060" width="22.80" height="3.610" fill="#7ec54a" stroke="#3c8012" stroke-width="1.2"/>
<rect x="138.73" y="32.671" width="22.80" height="3.610" fill="#7ec54a" stroke="#3c8012" stroke-width="1.2"/>
<rect x="138.73" y="36.281" width="22.80" height="3.610" fill="#7ec54a" stroke="#3c8012" stroke-width="1.2"/>
<rect x="138.73" y="39.892" width="22.80" height="3.610" fill="#7ec54a" stroke="#3c8012" stroke-width="1.2"/>
<rect x="138.73" y="43.502" width="22.80" height="3.610" fill="#7ec54a" stroke="#3c8012" stroke-width="1.2"/>
<rect x="138.73" y="47.112" width="22.80" height="3.610" fill="#7ec54a" stroke="#3c8012" stroke-width="1.2"/>
<rect x="138.73" y="50.723" width="22.80" height="3.610" fill="#7ec54a" stroke="#3c8012" stroke-width="1.2"/>
<rect x="138.73" y="54.333" width="22.80" height="3.610" fill="#7ec54a" stroke="#3c8012" stroke-width="1.2"/>
<rect x="138.73" y="57.944" width="22.80" height="3.610" fill="#7ec54a" stroke="#3c8012" stroke-width="1.2"/>
<rect x="138.73" y="61.554" width="22.80" height="3.610" fill="#7ec54a" stroke="#3c8012" stroke-width="1.2"/>
<rect x="138.73" y="65.164" width="22.80" height="3.610" fill="#7ec54a" stroke="#3c8012" stroke-width="1.2"/>
<rect x="138.73" y="68.775" width="22.80" height="3.610" fill="#7ec54a" stroke="#3c8012" stroke-width="1.2"/>
<rect x="138.73" y="72.385" width="22.80" height="3.610" fill="#7ec54a" stroke="#3c8012" stroke-width="1.2"/>
<rect x="138.73" y="75.996" width="22.80" height="3.610" fill="#7ec54a" stroke="#3c8012" stroke-width="1.2"/>
<rect x="138.73" y="79.606" width="22.80" height="3.610" fill="#7ec54a" stroke="#3c8012" stroke-width="1.2"/>
<rect x="138.73" y="83.216" width="22.80" height="3.610" fill="#7ec54a" stroke="#3c8012" stroke-width="1.2"/>
<rect x="138.73" y="86.827" width="22.80" height="3.610" fill="#7ec54a" stroke="#3c8012" stroke-width="1.2"/>
<rect x="138.73" y="90.437" width="22.80" height="3.610" fill="#7ec54a" stroke="#3c8012" stroke-width="1.2"/>
<rect x="138.73" y="94.048" width="22.80" height="3.610" fill="#7ec54a" stroke="#3c8012" stroke-width="1.2"/>
<rect x="138.73" y="97.658" width="22.80" height="3.610" fill="#7ec54a" stroke="#3c8012" stroke-width="1.2"/>
<rect x="138.73" y="101.268" width="22.80" height="3.610" fill="#7ec54a" stroke="#3c8012" stroke-width="1.2"/>
<rect x="138.73" y="104.879" width="22.80" height="3.610" fill="#7ec54a" stroke="#3c8012" stroke-width="1.2"/>
<rect x="138.73" y="108.489" width="22.80" height="3.610" fill="#7ec54a" stroke="#3c8012" stroke-width="1.2"/>
<rect x="138.73" y="112.100" width="22.80" height="3.610" fill="#7ec54a" stroke="#3c8012" stroke-width="1.2"/>
<rect x="138.73" y="115.710" width="22.80" height="3.610" fill="#7ec54a" stroke="#3c8012" stroke-width="1.2"/>
<rect x="138.73" y="119.320" width="22.80" height="3.610" fill="#7ec54a" stroke="#3c8012" stroke-width="1.2"/>
<rect x="138.73" y="122.931" width="22.80" height="3.610" fill="#7ec54a" stroke="#3c8012" stroke-width="1.2"/>
<rect x="138.73" y="126.541" width="22.80" height="3.610" fill="#7ec54a" stroke="#3c8012" stroke-width="1.2"/>
<rect x="138.73" y="130.152" width="22.80" height="3.610" fill="#7ec54a" stroke="#3c8012" stroke-width="1.2"/>
<rect x="138.73" y="133.762" width="22.80" height="3.610" fill="#7ec54a" stroke="#3c8012" stroke-width="1.2"/>
<rect x="138.73" y="137.372" width="22.80" height="3.610" fill="#7ec54a" stroke="#3c8012" stroke-width="1.2"/>
<rect x="138.73" y="140.983" width="22.80" height="3.610" fill="#7ec54a" stroke="#3c8012" stroke-width="1.2"/>
<rect x="138.73" y="144.593" width="22.80" height="3.610" fill="#7ec54a" stroke="#3c8012" stroke-width="1.2"/>
<rect x="138.73" y="148.204" width="22.80" height="3.610" fill="#7ec54a" stroke="#3c8012" stroke-width="1.2"/>
<rect x="138.73" y="151.814" width="22.80" height="3.610" fill="#7ec54a" stroke="#3c8012" stroke-width="1.2"/>
<rect x="138.73" y="155.424" width="22.80" height="3.610" fill="#7ec54a" stroke="#3c8012" stroke-width="1.2"/>
<rect x="138.73" y="159.035" width="22.80" height="3.610" fill="#7ec54a" stroke="#3c8012" stroke-width="1.2"/>
<rect x="138.73" y="162.645" width="22.80" height="3.610" fill="#ec117c" stroke="#b00a5c" stroke-width="1.2"/>
<rect x="138.73" y="166.256" width="22.80" height="3.610" fill="#ec117c" stroke="#b00a5c" stroke-width="1.2"/>
<rect x="138.73" y="169.866" width="22.80" height="3.610" fill="#ec117c" stroke="#b00a5c" stroke-width="1.2"/>
<rect x="138.73" y="173.476" width="22.80" height="3.610" fill="#7ec54a" stroke="#3c8012" stroke-width="1.2"/>
<rect x="138.73" y="177.087" width="22.80" height="3.610" fill="#7ec54a" stroke="#3c8012" stroke-width="1.2"/>
<rect x="138.73" y="180.697" width="22.80" height="3.610" fill="#7ec54a" stroke="#3c8012" stroke-width="1.2"/>
<rect x="138.73" y="184.308" width="22.80" height="3.610" fill="#7ec54a" stroke="#3c8012" stroke-width="1.2"/>
<rect x="138.73" y="187.918" width="22.80" height="3.610" fill="#ec117c" stroke="#b00a5c" stroke-width="1.2"/>
<rect x="138.73" y="191.528" width="22.80" height="3.610" fill="#7ec54a" stroke="#3c8012" stroke-width="1.2"/>
<rect x="138.73" y="195.139" width="22.80" height="3.610" fill="#7ec54a" stroke="#3c8012" stroke-width="1.2"/>
<rect x="138.73" y="198.749" width="22.80" height="3.610" fill="#ec117c" stroke="#b00a5c" stroke-width="1.2"/>
<rect x="138.73" y="202.360" width="22.80" height="3.610" fill="#7ec54a" stroke="#3c8012" stroke-width="1.2"/>
<rect x="138.73" y="205.970" width="22.80" height="3.610" fill="#7ec54a" stroke="#3c8012" stroke-width="1.2"/>
<rect x="138.73" y="209.580" width="22.80" height="3.610" fill="#ec117c" stroke="#b00a5c" stroke-width="1.2"/>
<rect x="138.73" y="213.191" width="22.80" height="3.610" fill="#7ec54a" stroke="#3c8012" stroke-width="1.2"/>
<rect x="138.73" y="216.801" width="22.80" height="3.610" fill="#ec117c" stroke="#b00a5c" stroke-width="1.2"/>
<rect x="138.73" y="220.412" width="22.80" height="3.610" fill="#7ec54a" stroke="#3c8012" stroke-width="1.2"/>
<rect x="138.73" y="224.022" width="22.80" height="3.610" fill="#7ec54a" stroke="#3c8012" stroke-width="1.2"/>
<rect x="138.73" y="227.632" width="22.80" height="3.610" fill="#7ec54a" stroke="#3c8012" stroke-width="1.2"/>
<rect x="138.73" y="231.243" width="22.80" height="3.610" fill="#7ec54a" stroke="#3c8012" stroke-width="1.2"/>
<rect x="138.73" y="234.853" width="22.80" height="3.610" fill="#7ec54a" stroke="#3c8012" stroke-width="1.2"/>
<rect x="138.73" y="238.464" width="22.80" height="3.610" fill="#7ec54a" stroke="#3c8012" stroke-width="1.2"/>
<rect x="138.73" y="242.074" width="22.80" height="3.610" fill="#7ec54a" stroke="#3c8012" stroke-width="1.2"/>
<rect x="138.73" y="245.684" width="22.80" height="3.610" fill="#7ec54a" stroke="#3c8012" stroke-width="1.2"/>
<rect x="138.73" y="249.295" width="22.80" height="3.610" fill="#ec117c" stroke="#b00a5c" stroke-width="1.2"/>
<rect x="138.73" y="252.905" width="22.80" height="3.610" fill="#ec117c" stroke="#b00a5c" stroke-width="1.2"/>
<rect x="138.73" y="256.516" width="22.80" height="3.610" fill="#ec117c" stroke="#b00a5c" stroke-width="1.2"/>
<rect x="138.73" y="260.126" width="22.80" height="3.610" fill="#7ec54a" stroke="#3c8012" stroke-width="1.2"/>
<rect x="138.73" y="263.736" width="22.80" height="3.610" fill="#7ec54a" stroke="#3c8012" stroke-width="1.2"/>
<rect x="161.52" y="25.450" width="22.80" height="3.610" fill="#7ec54a" stroke="#3c8012" stroke-width="1.2"/>
<rect x="161.52" y="29.060" width="22.80" height="3.610" fill="#7ec54a" stroke="#3c8012" stroke-width="1.2"/>
<rect x="161.52" y="32.671" width="22.80" height="3.610" fill="#7ec54a" stroke="#3c8012" stroke-width="1.2"/>
<rect x="161.52" y="36.281" width="22.80" height="3.610" fill="#7ec54a" stroke="#3c8012" stroke-width="1.2"/>
<rect x="161.52" y="39.892" width="22.80" height="3.610" fill="#7ec54a" stroke="#3c8012" stroke-width="1.2"/>
<rect x="161.52" y="43.502" width="22.80" height="3.610" fill="#7ec54a" stroke="#3c8012" stroke-width="1.2"/>
<rect x="161.52" y="47.112" width="22.80" height="3.610" fill="#7ec54a" stroke="#3c8012" stroke-width="1.2"/>
<rect x="161.52" y="50.723" width="22.80" height="3.610" fill="#7ec54a" stroke="#3c8012" stroke-width="1.2"/>
<rect x="161.52" y="54.333" width="22.80" height="3.610" fill="#7ec54a" stroke="#3c8012" stroke-width="1.2"/>
<rect x="161.52" y="57.944" width="22.80" height="3.610" fill="#7ec54a" stroke="#3c8012" stroke-width="1.2"/>
<rect x="161.52" y="61.554" width="22.80" height="3.610" fill="#7ec54a" stroke="#3c8012" stroke-width="1.2"/>
<rect x="161.52" y="65.164" width="22.80" height="3.610" fill="#7ec54a" stroke="#3c8012" stroke-width="1.2"/>
<rect x="161.52" y="68.775" width="22.80" height="3.610" fill="#7ec54a" stroke="#3c8012" stroke-width="1.2"/>
<rect x="161.52" y="72.385" width="22.80" height="3.610" fill="#7ec54a" stroke="#3c8012" stroke-width="1.2"/>
<rect x="161.52" y="75.996" width="22.80" height="3.610" fill="#7ec54a" stroke="#3c8012" stroke-width="1.2"/>
<rect x="161.52" y="79.606" width="22.80" height="3.610" fill="#7ec54a" stroke="#3c8012" stroke-width="1.2"/>
<rect x="161.52" y="83.216" width="22.80" height="3.610" fill="#7ec54a" stroke="#3c8012" stroke-width="1.2"/>
<rect x="161.52" y="86.827" width="22.80" height="3.610" fill="#7ec54a" stroke="#3c8012" stroke-width="1.2"/>
<rect x="161.52" y="90.437" width="22.80" height="3.610" fill="#7ec54a" stroke="#3c8012" stroke-width="1.2"/>
<rect x="161.52" y="94.048" width="22.80" height="3.610" fill="#7ec54a" stroke="#3c8012" stroke-width="1.2"/>
<rect x="161.52" y="97.658" width="22.80" height="3.610" fill="#7ec54a" stroke="#3c8012" stroke-width="1.2"/>
<rect x="161.52" y="101.268" width="22.80" height="3.610" fill="#7ec54a" stroke="#3c8012" stroke-width="1.2"/>
<rect x="161.52" y="104.879" width="22.80" height="3.610" fill="#7ec54a" stroke="#3c8012" stroke-width="1.2"/>
<rect x="161.52" y="108.489" width="22.80" height="3.610" fill="#ec117c" stroke="#b00a5c" stroke-width="1.2"/>
<rect x="161.52" y="112.100" width="22.80" height="3.610" fill="#ec117c" stroke="#b00a5c" stroke-width="1.2"/>
<rect x="161.52" y="115.710" width="22.80" height="3.610" fill="#ec117c" stroke="#b00a5c" stroke-width="1.2"/>
<rect x="161.52" y="119.320" width="22.80" height="3.610" fill="#7ec54a" stroke="#3c8012" stroke-width="1.2"/>
<rect x="161.52" y="122.931" width="22.80" height="3.610" fill="#7ec54a" stroke="#3c8012" stroke-width="1.2"/>
<rect x="161.52" y="126.541" width="22.80" height="3.610" fill="#7ec54a" stroke="#3c8012" stroke-width="1.2"/>
<rect x="161.52" y="130.152" width="22.80" height="3.610" fill="#7ec54a" stroke="#3c8012" stroke-width="1.2"/>
<rect x="161.52" y="133.762" width="22.80" height="3.610" fill="#7ec54a" stroke="#3c8012" stroke-width="1.2"/>
<rect x="161.52" y="137.372" width="22.80" height="3.610" fill="#7ec54a" stroke="#3c8012" stroke-width="1.2"/>
<rect x="161.52" y="140.983" width="22.80" height="3.610" fill="#7ec54a" stroke="#3c8012" stroke-width="1.2"/>
<rect x="161.52" y="144.593" width="22.80" height="3.610" fill="#7ec54a" stroke="#3c8012" stroke-width="1.2"/>
<rect x="161.52" y="148.204" width="22.80" height="3.610" fill="#7ec54a" stroke="#3c8012" stroke-width="1.2"/>
<rect x="161.52" y="151.814" width="22.80" height="3.610" fill="#7ec54a" stroke="#3c8012" stroke-width="1.2"/>
<rect x="161.52" y="155.424" width="22.80" height="3.610" fill="#7ec54a" stroke="#3c8012" stroke-width="1.2"/>
<rect x="161.52" y="159.035" width="22.80" height="3.610" fill="#7ec54a" stroke="#3c8012" stroke-width="1.2"/>
<rect x="161.52" y="162.645" width="22.80" height="3.610" fill="#7ec54a" stroke="#3c8012" stroke-width="1.2"/>
<rect x="161.52" y="166.256" width="22.80" height="3.610" fill="#7ec54a" stroke="#3c8012" stroke-width="1.2"/>
<rect x="161.52" y="169.866" width="22.80" height="3.610" fill="#7ec54a" stroke="#3c8012" stroke-width="1.2"/>
<rect x="161.52" y="173.476" width="22.80" height="3.610" fill="#ec117c" stroke="#b00a5c" stroke-width="1.2"/>
<rect x="161.52" y="177.087" width="22.80" height="3.610" fill="#7ec54a" stroke="#3c8012" stroke-width="1.2"/>
<rect x="161.52" y="180.697" width="22.80" height="3.610" fill="#7ec54a" stroke="#3c8012" stroke-width="1.2"/>
<rect x="161.52" y="184.308" width="22.80" height="3.610" fill="#7ec54a" stroke="#3c8012" stroke-width="1.2"/>
<rect x="161.52" y="187.918" width="22.80" height="3.610" fill="#7ec54a" stroke="#3c8012" stroke-width="1.2"/>
<rect x="161.52" y="191.528" width="22.80" height="3.610" fill="#7ec54a" stroke="#3c8012" stroke-width="1.2"/>
<rect x="161.52" y="195.139" width="22.80" height="3.610" fill="#7ec54a" stroke="#3c8012" stroke-width="1.2"/>
<rect x="161.52" y="198.749" width="22.80" height="3.610" fill="#7ec54a" stroke="#3c8012" stroke-width="1.2"/>
<rect x="161.52" y="202.360" width="22.80" height="3.610" fill="#7ec54a" stroke="#3c8012" stroke-width="1.2"/>
<rect x="161.52" y="205.970" width="22.80" height="3.610" fill="#ec117c" stroke="#b00a5c" stroke-width="1.2"/>
<rect x="161.52" y="209.580" width="22.80" height="3.610" fill="#7ec54a" stroke="#3c8012" stroke-width="1.2"/>
<rect x="161.52" y="213.191" width="22.80" height="3.610" fill="#ec117c" stroke="#b00a5c" stroke-width="1.2"/>
<rect x="161.52" y="216.801" width="22.80" height="3.610" fill="#7ec54a" stroke="#3c8012" stroke-width="1.2"/>
<rect x="161.52" y="220.412" width="22.80" height="3.610" fill="#7ec54a" stroke="#3c8012" stroke-width="1.2"/>
<rect x="161.52" y="224.022" width="22.80" height="3.610" fill="#7ec54a" stroke="#3c8012" stroke-width="1.2"/>
<rect x="161.52" y="227.632" width="22.80" height="3.610" fill="#7ec54a" stroke="#3c8012" stroke-width="1.2"/>
<rect x="161.52" y="231.243" width="22.80" height="3.610" fill="#7ec54a" stroke="#3c8012" stroke-width="1.2"/>
<rect x="161.52" y="234.853" width="22.80" height="3.610" fill="#7ec54a" stroke="#3c8012" stroke-width="1.2"/>
<rect x="161.52" y="238.464" width="22.80" height="3.610" fill="#7ec54a" stroke="#3c8012" stroke-width="1.2"/>
<rect x="161.52" y="242.074" width="22.80" height="3.610" fill="#ec117c" stroke="#b00a5c" stroke-width="1.2"/>
<rect x="161.52" y="245.684" width="22.80" height="3.610" fill="#7ec54a" stroke="#3c8012" stroke-width="1.2"/>
<rect x="161.52" y="249.295" width="22.80" height="3.610" fill="#7ec54a" stroke="#3c8012" stroke-width="1.2"/>
<rect x="161.52" y="252.905" width="22.80" height="3.610" fill="#ec117c" stroke="#b00a5c" stroke-width="1.2"/>
<rect x="161.52" y="256.516" width="22.80" height="3.610" fill="#7ec54a" stroke="#3c8012" stroke-width="1.2"/>
<rect x="161.52" y="260.126" width="22.80" height="3.610" fill="#ec117c" stroke="#b00a5c" stroke-width="1.2"/>
<rect x="161.52" y="263.736" width="22.80" height="3.610" fill="#ec117c" stroke="#b00a5c" stroke-width="1.2"/>
<rect x="184.31" y="25.450" width="22.80" height="3.610" fill="#7ec54a" stroke="#3c8012" stroke-width="1.2"/>
<rect x="184.31" y="29.060" width="22.80" height="3.610" fill="#7ec54a" stroke="#3c8012" stroke-width="1.2"/>
<rect x="184.31" y="32.671" width="22.80" height="3.610" fill="#7ec54a" stroke="#3c8012" stroke-width="1.2"/>
<rect x="184.31" y="36.281" width="22.80" height="3.610" fill="#7ec54a" stroke="#3c8012" stroke-width="1.2"/>
<rect x="184.31" y="39.892" width="22.80" height="3.610" fill="#7ec54a" stroke="#3c8012" stroke-width="1.2"/>
<rect x="184.31" y="43.502" width="22.80" height="3.610" fill="#7ec54a" stroke="#3c8012" stroke-width="1.2"/>
<rect x="184.31" y="47.112" width="22.80" height="3.610" fill="#7ec54a" stroke="#3c8012" stroke-width="1.2"/>
<rect x="184.31" y="50.723" width="22.80" height="3.610" fill="#7ec54a" stroke="#3c8012" stroke-width="1.2"/>
<rect x="184.31" y="54.333" width="22.80" height="3.610" fill="#7ec54a" stroke="#3c8012" stroke-width="1.2"/>
<rect x="184.31" y="57.944" width="22.80" height="3.610" fill="#7ec54a" stroke="#3c8012" stroke-width="1.2"/>
<rect x="184.31" y="61.554" width="22.80" height="3.610" fill="#7ec54a" stroke="#3c8012" stroke-width="1.2"/>
<rect x="184.31" y="65.164" width="22.80" height="3.610" fill="#7ec54a" stroke="#3c8012" stroke-width="1.2"/>
<rect x="184.31" y="68.775" width="22.80" height="3.610" fill="#7ec54a" stroke="#3c8012" stroke-width="1.2"/>
<rect x="184.31" y="72.385" width="22.80" height="3.610" fill="#7ec54a" stroke="#3c8012" stroke-width="1.2"/>
<rect x="184.31" y="75.996" width="22.80" height="3.610" fill="#7ec54a" stroke="#3c8012" stroke-width="1.2"/>
<rect x="184.31" y="79.606" width="22.80" height="3.610" fill="#7ec54a" stroke="#3c8012" stroke-width="1.2"/>
<rect x="184.31" y="83.216" width="22.80" height="3.610" fill="#7ec54a" stroke="#3c8012" stroke-width="1.2"/>
<rect x="184.31" y="86.827" width="22.80" height="3.610" fill="#7ec54a" stroke="#3c8012" stroke-width="1.2"/>
<rect x="184.31" y="90.437" width="22.80" height="3.610" fill="#7ec54a" stroke="#3c8012" stroke-width="1.2"/>
<rect x="184.31" y="94.048" width="22.80" height="3.610" fill="#7ec54a" stroke="#3c8012" stroke-width="1.2"/>
<rect x="184.31" y="97.658" width="22.80" height="3.610" fill="#7ec54a" stroke="#3c8012" stroke-width="1.2"/>
<rect x="184.31" y="101.268" width="22.80" height="3.610" fill="#7ec54a" stroke="#3c8012" stroke-width="1.2"/>
<rect x="184.31" y="104.879" width="22.80" height="3.610" fill="#7ec54a" stroke="#3c8012" stroke-width="1.2"/>
<rect x="184.31" y="108.489" width="22.80" height="3.610" fill="#7ec54a" stroke="#3c8012" stroke-width="1.2"/>
<rect x="184.31" y="112.100" width="22.80" height="3.610" fill="#7ec54a" stroke="#3c8012" stroke-width="1.2"/>
<rect x="184.31" y="115.710" width="22.80" height="3.610" fill="#7ec54a" stroke="#3c8012" stroke-width="1.2"/>
<rect x="184.31" y="119.320" width="22.80" height="3.610" fill="#7ec54a" stroke="#3c8012" stroke-width="1.2"/>
<rect x="184.31" y="122.931" width="22.80" height="3.610" fill="#7ec54a" stroke="#3c8012" stroke-width="1.2"/>
<rect x="184.31" y="126.541" width="22.80" height="3.610" fill="#7ec54a" stroke="#3c8012" stroke-width="1.2"/>
<rect x="184.31" y="130.152" width="22.80" height="3.610" fill="#7ec54a" stroke="#3c8012" stroke-width="1.2"/>
<rect x="184.31" y="133.762" width="22.80" height="3.610" fill="#7ec54a" stroke="#3c8012" stroke-width="1.2"/>
<rect x="184.31" y="137.372" width="22.80" height="3.610" fill="#7ec54a" stroke="#3c8012" stroke-width="1.2"/>
<rect x="184.31" y="140.983" width="22.80" height="3.610" fill="#7ec54a" stroke="#3c8012" stroke-width="1.2"/>
<rect x="184.31" y="144.593" width="22.80" height="3.610" fill="#7ec54a" stroke="#3c8012" stroke-width="1.2"/>
<rect x="184.31" y="148.204" width="22.80" height="3.610" fill="#7ec54a" stroke="#3c8012" stroke-width="1.2"/>
<rect x="184.31" y="151.814" width="22.80" height="3.610" fill="#7ec54a" stroke="#3c8012" stroke-width="1.2"/>
<rect x="184.31" y="155.424" width="22.80" height="3.610" fill="#7ec54a" stroke="#3c8012" stroke-width="1.2"/>
<rect x="184.31" y="159.035" width="22.80" height="3.610" fill="#7ec54a" stroke="#3c8012" stroke-width="1.2"/>
<rect x="184.31" y="162.645" width="22.80" height="3.610" fill="#7ec54a" stroke="#3c8012" stroke-width="1.2"/>
<rect x="184.31" y="166.256" width="22.80" height="3.610" fill="#7ec54a" stroke="#3c8012" stroke-width="1.2"/>
<rect x="184.31" y="169.866" width="22.80" height="3.610" fill="#7ec54a" stroke="#3c8012" stroke-width="1.2"/>
<rect x="184.31" y="173.476" width="22.80" height="3.610" fill="#7ec54a" stroke="#3c8012" stroke-width="1.2"/>
<rect x="184.31" y="177.087" width="22.80" height="3.610" fill="#7ec54a" stroke="#3c8012" stroke-width="1.2"/>
<rect x="184.31" y="180.697" width="22.80" height="3.610" fill="#7ec54a" stroke="#3c8012" stroke-width="1.2"/>
<rect x="184.31" y="184.308" width="22.80" height="3.610" fill="#7ec54a" stroke="#3c8012" stroke-width="1.2"/>
<rect x="184.31" y="187.918" width="22.80" height="3.610" fill="#7ec54a" stroke="#3c8012" stroke-width="1.2"/>
<rect x="184.31" y="191.528" width="22.80" height="3.610" fill="#7ec54a" stroke="#3c8012" stroke-width="1.2"/>
<rect x="184.31" y="195.139" width="22.80" height="3.610" fill="#7ec54a" stroke="#3c8012" stroke-width="1.2"/>
<rect x="184.31" y="198.749" width="22.80" height="3.610" fill="#7ec54a" stroke="#3c8012" stroke-width="1.2"/>
<rect x="184.31" y="202.360" width="22.80" height="3.610" fill="#7ec54a" stroke="#3c8012" stroke-width="1.2"/>
<rect x="184.31" y="205.970" width="22.80" height="3.610" fill="#7ec54a" stroke="#3c8012" stroke-width="1.2"/>
<rect x="184.31" y="209.580" width="22.80" height="3.610" fill="#7ec54a" stroke="#3c8012" stroke-width="1.2"/>
<rect x="184.31" y="213.191" width="22.80" height="3.610" fill="#7ec54a" stroke="#3c8012" stroke-width="1.2"/>
<rect x="184.31" y="216.801" width="22.80" height="3.610" fill="#7ec54a" stroke="#3c8012" stroke-width="1.2"/>
<rect x="184.31" y="220.412" width="22.80" height="3.610" fill="#7ec54a" stroke="#3c8012" stroke-width="1.2"/>
<rect x="184.31" y="224.022" width="22.80" height="3.610" fill="#ec117c" stroke="#b00a5c" stroke-width="1.2"/>
<rect x="184.31" y="227.632" width="22.80" height="3.610" fill="#7ec54a" stroke="#3c8012" stroke-width="1.2"/>
<rect x="184.31" y="231.243" width="22.80" height="3.610" fill="#7ec54a" stroke="#3c8012" stroke-width="1.2"/>
<rect x="184.31" y="234.853" width="22.80" height="3.610" fill="#7ec54a" stroke="#3c8012" stroke-width="1.2"/>
<rect x="184.31" y="238.464" width="22.80" height="3.610" fill="#7ec54a" stroke="#3c8012" stroke-width="1.2"/>
<rect x="184.31" y="242.074" width="22.80" height="3.610" fill="#7ec54a" stroke="#3c8012" stroke-width="1.2"/>
<rect x="184.31" y="245.684" width="22.80" height="3.610" fill="#ec117c" stroke="#b00a5c" stroke-width="1.2"/>
<rect x="184.31" y="249.295" width="22.80" height="3.610" fill="#7ec54a" stroke="#3c8012" stroke-width="1.2"/>
<rect x="184.31" y="252.905" width="22.80" height="3.610" fill="#7ec54a" stroke="#3c8012" stroke-width="1.2"/>
<rect x="184.31" y="256.516" width="22.80" height="3.610" fill="#ec117c" stroke="#b00a5c" stroke-width="1.2"/>
<rect x="184.31" y="260.126" width="22.80" height="3.610" fill="#ec117c" stroke="#b00a5c" stroke-width="1.2"/>
<rect x="184.31" y="263.736" width="22.80" height="3.610" fill="#7ec54a" stroke="#3c8012" stroke-width="1.2"/>
<rect x="207.11" y="25.450" width="22.80" height="3.610" fill="#7ec54a" stroke="#3c8012" stroke-width="1.2"/>
<rect x="207.11" y="29.060" width="22.80" height="3.610" fill="#7ec54a" stroke="#3c8012" stroke-width="1.2"/>
<rect x="207.11" y="32.671" width="22.80" height="3.610" fill="#7ec54a" stroke="#3c8012" stroke-width="1.2"/>
<rect x="207.11" y="36.281" width="22.80" height="3.610" fill="#7ec54a" stroke="#3c8012" stroke-width="1.2"/>
<rect x="207.11" y="39.892" width="22.80" height="3.610" fill="#7ec54a" stroke="#3c8012" stroke-width="1.2"/>
<rect x="207.11" y="43.502" width="22.80" height="3.610" fill="#7ec54a" stroke="#3c8012" stroke-width="1.2"/>
<rect x="207.11" y="47.112" width="22.80" height="3.610" fill="#7ec54a" stroke="#3c8012" stroke-width="1.2"/>
<rect x="207.11" y="50.723" width="22.80" height="3.610" fill="#7ec54a" stroke="#3c8012" stroke-width="1.2"/>
<rect x="207.11" y="54.333" width="22.80" height="3.610" fill="#7ec54a" stroke="#3c8012" stroke-width="1.2"/>
<rect x="207.11" y="57.944" width="22.80" height="3.610" fill="#7ec54a" stroke="#3c8012" stroke-width="1.2"/>
<rect x="207.11" y="61.554" width="22.80" height="3.610" fill="#7ec54a" stroke="#3c8012" stroke-width="1.2"/>
<rect x="207.11" y="65.164" width="22.80" height="3.610" fill="#7ec54a" stroke="#3c8012" stroke-width="1.2"/>
<rect x="207.11" y="68.775" width="22.80" height="3.610" fill="#7ec54a" stroke="#3c8012" stroke-width="1.2"/>
<rect x="207.11" y="72.385" width="22.80" height="3.610" fill="#7ec54a" stroke="#3c8012" stroke-width="1.2"/>
<rect x="207.11" y="75.996" width="22.80" height="3.610" fill="#7ec54a" stroke="#3c8012" stroke-width="1.2"/>
<rect x="207.11" y="79.606" width="22.80" height="3.610" fill="#7ec54a" stroke="#3c8012" stroke-width="1.2"/>
<rect x="207.11" y="83.216" width="22.80" height="3.610" fill="#7ec54a" stroke="#3c8012" stroke-width="1.2"/>
<rect x="207.11" y="86.827" width="22.80" height="3.610" fill="#7ec54a" stroke="#3c8012" stroke-width="1.2"/>
<rect x="207.11" y="90.437" width="22.80" height="3.610" fill="#7ec54a" stroke="#3c8012" stroke-width="1.2"/>
<rect x="207.11" y="94.048" width="22.80" height="3.610" fill="#7ec54a" stroke="#3c8012" stroke-width="1.2"/>
<rect x="207.11" y="97.658" width="22.80" height="3.610" fill="#7ec54a" stroke="#3c8012" stroke-width="1.2"/>
<rect x="207.11" y="101.268" width="22.80" height="3.610" fill="#7ec54a" stroke="#3c8012" stroke-width="1.2"/>
<rect x="207.11" y="104.879" width="22.80" height="3.610" fill="#7ec54a" stroke="#3c8012" stroke-width="1.2"/>
<rect x="207.11" y="108.489" width="22.80" height="3.610" fill="#7ec54a" stroke="#3c8012" stroke-width="1.2"/>
<rect x="207.11" y="112.100" width="22.80" height="3.610" fill="#7ec54a" stroke="#3c8012" stroke-width="1.2"/>
<rect x="207.11" y="115.710" width="22.80" height="3.610" fill="#7ec54a" stroke="#3c8012" stroke-width="1.2"/>
<rect x="207.11" y="119.320" width="22.80" height="3.610" fill="#7ec54a" stroke="#3c8012" stroke-width="1.2"/>
<rect x="207.11" y="122.931" width="22.80" height="3.610" fill="#7ec54a" stroke="#3c8012" stroke-width="1.2"/>
<rect x="207.11" y="126.541" width="22.80" height="3.610" fill="#7ec54a" stroke="#3c8012" stroke-width="1.2"/>
<rect x="207.11" y="130.152" width="22.80" height="3.610" fill="#7ec54a" stroke="#3c8012" stroke-width="1.2"/>
<rect x="207.11" y="133.762" width="22.80" height="3.610" fill="#7ec54a" stroke="#3c8012" stroke-width="1.2"/>
<rect x="207.11" y="137.372" width="22.80" height="3.610" fill="#7ec54a" stroke="#3c8012" stroke-width="1.2"/>
<rect x="207.11" y="140.983" width="22.80" height="3.610" fill="#7ec54a" stroke="#3c8012" stroke-width="1.2"/>
<rect x="207.11" y="144.593" width="22.80" height="3.610" fill="#7ec54a" stroke="#3c8012" stroke-width="1.2"/>
<rect x="207.11" y="148.204" width="22.80" height="3.610" fill="#7ec54a" stroke="#3c8012" stroke-width="1.2"/>
<rect x="207.11" y="151.814" width="22.80" height="3.610" fill="#7ec54a" stroke="#3c8012" stroke-width="1.2"/>
<rect x="207.11" y="155.424" width="22.80" height="3.610" fill="#7ec54a" stroke="#3c8012" stroke-width="1.2"/>
<rect x="207.11" y="159.035" width="22.80" height="3.610" fill="#7ec54a" stroke="#3c8012" stroke-width="1.2"/>
<rect x="207.11" y="162.645" width="22.80" height="3.610" fill="#7ec54a" stroke="#3c8012" stroke-width="1.2"/>
<rect x="207.11" y="166.256" width="22.80" height="3.610" fill="#7ec54a" stroke="#3c8012" stroke-width="1.2"/>
<rect x="207.11" y="169.866" width="22.80" height="3.610" fill="#7ec54a" stroke="#3c8012" stroke-width="1.2"/>
<rect x="207.11" y="173.476" width="22.80" height="3.610" fill="#7ec54a" stroke="#3c8012" stroke-width="1.2"/>
<rect x="207.11" y="177.087" width="22.80" height="3.610" fill="#7ec54a" stroke="#3c8012" stroke-width="1.2"/>
<rect x="207.11" y="180.697" width="22.80" height="3.610" fill="#7ec54a" stroke="#3c8012" stroke-width="1.2"/>
<rect x="207.11" y="184.308" width="22.80" height="3.610" fill="#7ec54a" stroke="#3c8012" stroke-width="1.2"/>
<rect x="207.11" y="187.918" width="22.80" height="3.610" fill="#7ec54a" stroke="#3c8012" stroke-width="1.2"/>
<rect x="207.11" y="191.528" width="22.80" height="3.610" fill="#ec117c" stroke="#b00a5c" stroke-width="1.2"/>
<rect x="207.11" y="195.139" width="22.80" height="3.610" fill="#7ec54a" stroke="#3c8012" stroke-width="1.2"/>
<rect x="207.11" y="198.749" width="22.80" height="3.610" fill="#7ec54a" stroke="#3c8012" stroke-width="1.2"/>
<rect x="207.11" y="202.360" width="22.80" height="3.610" fill="#7ec54a" stroke="#3c8012" stroke-width="1.2"/>
<rect x="207.11" y="205.970" width="22.80" height="3.610" fill="#7ec54a" stroke="#3c8012" stroke-width="1.2"/>
<rect x="207.11" y="209.580" width="22.80" height="3.610" fill="#7ec54a" stroke="#3c8012" stroke-width="1.2"/>
<rect x="207.11" y="213.191" width="22.80" height="3.610" fill="#7ec54a" stroke="#3c8012" stroke-width="1.2"/>
<rect x="207.11" y="216.801" width="22.80" height="3.610" fill="#7ec54a" stroke="#3c8012" stroke-width="1.2"/>
<rect x="207.11" y="220.412" width="22.80" height="3.610" fill="#ec117c" stroke="#b00a5c" stroke-width="1.2"/>
<rect x="207.11" y="224.022" width="22.80" height="3.610" fill="#7ec54a" stroke="#3c8012" stroke-width="1.2"/>
<rect x="207.11" y="227.632" width="22.80" height="3.610" fill="#7ec54a" stroke="#3c8012" stroke-width="1.2"/>
<rect x="207.11" y="231.243" width="22.80" height="3.610" fill="#7ec54a" stroke="#3c8012" stroke-width="1.2"/>
<rect x="207.11" y="234.853" width="22.80" height="3.610" fill="#7ec54a" stroke="#3c8012" stroke-width="1.2"/>
<rect x="207.11" y="238.464" width="22.80" height="3.610" fill="#7ec54a" stroke="#3c8012" stroke-width="1.2"/>
<rect x="207.11" y="242.074" width="22.80" height="3.610" fill="#7ec54a" stroke="#3c8012" stroke-width="1.2"/>
<rect x="207.11" y="245.684" width="22.80" height="3.610" fill="#7ec54a" stroke="#3c8012" stroke-width="1.2"/>
<rect x="207.11" y="249.295" width="22.80" height="3.610" fill="#7ec54a" stroke="#3c8012" stroke-width="1.2"/>
<rect x="207.11" y="252.905" width="22.80" height="3.610" fill="#7ec54a" stroke="#3c8012" stroke-width="1.2"/>
<rect x="207.11" y="256.516" width="22.80" height="3.610" fill="#7ec54a" stroke="#3c8012" stroke-width="1.2"/>
<rect x="207.11" y="260.126" width="22.80" height="3.610" fill="#7ec54a" stroke="#3c8012" stroke-width="1.2"/>
<rect x="207.11" y="263.736" width="22.80" height="3.610" fill="#ec117c" stroke="#b00a5c" stroke-width="1.2"/>
<rect x="229.91" y="25.450" width="22.80" height="3.610" fill="#7ec54a" stroke="#3c8012" stroke-width="1.2"/>
<rect x="229.91" y="29.060" width="22.80" height="3.610" fill="#7ec54a" stroke="#3c8012" stroke-width="1.2"/>
<rect x="229.91" y="32.671" width="22.80" height="3.610" fill="#7ec54a" stroke="#3c8012" stroke-width="1.2"/>
<rect x="229.91" y="36.281" width="22.80" height="3.610" fill="#7ec54a" stroke="#3c8012" stroke-width="1.2"/>
<rect x="229.91" y="39.892" width="22.80" height="3.610" fill="#7ec54a" stroke="#3c8012" stroke-width="1.2"/>
<rect x="229.91" y="43.502" width="22.80" height="3.610" fill="#7ec54a" stroke="#3c8012" stroke-width="1.2"/>
<rect x="229.91" y="47.112" width="22.80" height="3.610" fill="#7ec54a" stroke="#3c8012" stroke-width="1.2"/>
<rect x="229.91" y="50.723" width="22.80" height="3.610" fill="#7ec54a" stroke="#3c8012" stroke-width="1.2"/>
<rect x="229.91" y="54.333" width="22.80" height="3.610" fill="#7ec54a" stroke="#3c8012" stroke-width="1.2"/>
<rect x="229.91" y="57.944" width="22.80" height="3.610" fill="#7ec54a" stroke="#3c8012" stroke-width="1.2"/>
<rect x="229.91" y="61.554" width="22.80" height="3.610" fill="#7ec54a" stroke="#3c8012" stroke-width="1.2"/>
<rect x="229.91" y="65.164" width="22.80" height="3.610" fill="#7ec54a" stroke="#3c8012" stroke-width="1.2"/>
<rect x="229.91" y="68.775" width="22.80" height="3.610" fill="#7ec54a" stroke="#3c8012" stroke-width="1.2"/>
<rect x="229.91" y="72.385" width="22.80" height="3.610" fill="#7ec54a" stroke="#3c8012" stroke-width="1.2"/>
<rect x="229.91" y="75.996" width="22.80" height="3.610" fill="#7ec54a" stroke="#3c8012" stroke-width="1.2"/>
<rect x="229.91" y="79.606" width="22.80" height="3.610" fill="#7ec54a" stroke="#3c8012" stroke-width="1.2"/>
<rect x="229.91" y="83.216" width="22.80" height="3.610" fill="#7ec54a" stroke="#3c8012" stroke-width="1.2"/>
<rect x="229.91" y="86.827" width="22.80" height="3.610" fill="#7ec54a" stroke="#3c8012" stroke-width="1.2"/>
<rect x="229.91" y="90.437" width="22.80" height="3.610" fill="#7ec54a" stroke="#3c8012" stroke-width="1.2"/>
<rect x="229.91" y="94.048" width="22.80" height="3.610" fill="#7ec54a" stroke="#3c8012" stroke-width="1.2"/>
<rect x="229.91" y="97.658" width="22.80" height="3.610" fill="#7ec54a" stroke="#3c8012" stroke-width="1.2"/>
<rect x="229.91" y="101.268" width="22.80" height="3.610" fill="#7ec54a" stroke="#3c8012" stroke-width="1.2"/>
<rect x="229.91" y="104.879" width="22.80" height="3.610" fill="#7ec54a" stroke="#3c8012" stroke-width="1.2"/>
<rect x="229.91" y="108.489" width="22.80" height="3.610" fill="#7ec54a" stroke="#3c8012" stroke-width="1.2"/>
<rect x="229.91" y="112.100" width="22.80" height="3.610" fill="#7ec54a" stroke="#3c8012" stroke-width="1.2"/>
<rect x="229.91" y="115.710" width="22.80" height="3.610" fill="#7ec54a" stroke="#3c8012" stroke-width="1.2"/>
<rect x="229.91" y="119.320" width="22.80" height="3.610" fill="#7ec54a" stroke="#3c8012" stroke-width="1.2"/>
<rect x="229.91" y="122.931" width="22.80" height="3.610" fill="#7ec54a" stroke="#3c8012" stroke-width="1.2"/>
<rect x="229.91" y="126.541" width="22.80" height="3.610" fill="#7ec54a" stroke="#3c8012" stroke-width="1.2"/>
<rect x="229.91" y="130.152" width="22.80" height="3.610" fill="#7ec54a" stroke="#3c8012" stroke-width="1.2"/>
<rect x="229.91" y="133.762" width="22.80" height="3.610" fill="#7ec54a" stroke="#3c8012" stroke-width="1.2"/>
<rect x="229.91" y="137.372" width="22.80" height="3.610" fill="#7ec54a" stroke="#3c8012" stroke-width="1.2"/>
<rect x="229.91" y="140.983" width="22.80" height="3.610" fill="#7ec54a" stroke="#3c8012" stroke-width="1.2"/>
<rect x="229.91" y="144.593" width="22.80" height="3.610" fill="#7ec54a" stroke="#3c8012" stroke-width="1.2"/>
<rect x="229.91" y="148.204" width="22.80" height="3.610" fill="#7ec54a" stroke="#3c8012" stroke-width="1.2"/>
<rect x="229.91" y="151.814" width="22.80" height="3.610" fill="#7ec54a" stroke="#3c8012" stroke-width="1.2"/>
<rect x="229.91" y="155.424" width="22.80" height="3.610" fill="#7ec54a" stroke="#3c8012" stroke-width="1.2"/>
<rect x="229.91" y="159.035" width="22.80" height="3.610" fill="#7ec54a" stroke="#3c8012" stroke-width="1.2"/>
<rect x="229.91" y="162.645" width="22.80" height="3.610" fill="#7ec54a" stroke="#3c8012" stroke-width="1.2"/>
<rect x="229.91" y="166.256" width="22.80" height="3.610" fill="#7ec54a" stroke="#3c8012" stroke-width="1.2"/>
<rect x="229.91" y="169.866" width="22.80" height="3.610" fill="#7ec54a" stroke="#3c8012" stroke-width="1.2"/>
<rect x="229.91" y="173.476" width="22.80" height="3.610" fill="#7ec54a" stroke="#3c8012" stroke-width="1.2"/>
<rect x="229.91" y="177.087" width="22.80" height="3.610" fill="#7ec54a" stroke="#3c8012" stroke-width="1.2"/>
<rect x="229.91" y="180.697" width="22.80" height="3.610" fill="#7ec54a" stroke="#3c8012" stroke-width="1.2"/>
<rect x="229.91" y="184.308" width="22.80" height="3.610" fill="#7ec54a" stroke="#3c8012" stroke-width="1.2"/>
<rect x="229.91" y="187.918" width="22.80" height="3.610" fill="#7ec54a" stroke="#3c8012" stroke-width="1.2"/>
<rect x="229.91" y="191.528" width="22.80" height="3.610" fill="#7ec54a" stroke="#3c8012" stroke-width="1.2"/>
<rect x="229.91" y="195.139" width="22.80" height="3.610" fill="#7ec54a" stroke="#3c8012" stroke-width="1.2"/>
<rect x="229.91" y="198.749" width="22.80" height="3.610" fill="#7ec54a" stroke="#3c8012" stroke-width="1.2"/>
<rect x="229.91" y="202.360" width="22.80" height="3.610" fill="#7ec54a" stroke="#3c8012" stroke-width="1.2"/>
<rect x="229.91" y="205.970" width="22.80" height="3.610" fill="#7ec54a" stroke="#3c8012" stroke-width="1.2"/>
<rect x="229.91" y="209.580" width="22.80" height="3.610" fill="#7ec54a" stroke="#3c8012" stroke-width="1.2"/>
<rect x="229.91" y="213.191" width="22.80" height="3.610" fill="#7ec54a" stroke="#3c8012" stroke-width="1.2"/>
<rect x="229.91" y="216.801" width="22.80" height="3.610" fill="#7ec54a" stroke="#3c8012" stroke-width="1.2"/>
<rect x="229.91" y="220.412" width="22.80" height="3.610" fill="#7ec54a" stroke="#3c8012" stroke-width="1.2"/>
<rect x="229.91" y="224.022" width="22.80" height="3.610" fill="#7ec54a" stroke="#3c8012" stroke-width="1.2"/>
<rect x="229.91" y="227.632" width="22.80" height="3.610" fill="#7ec54a" stroke="#3c8012" stroke-width="1.2"/>
<rect x="229.91" y="231.243" width="22.80" height="3.610" fill="#7ec54a" stroke="#3c8012" stroke-width="1.2"/>
<rect x="229.91" y="234.853" width="22.80" height="3.610" fill="#7ec54a" stroke="#3c8012" stroke-width="1.2"/>
<rect x="229.91" y="238.464" width="22.80" height="3.610" fill="#7ec54a" stroke="#3c8012" stroke-width="1.2"/>
<rect x="229.91" y="242.074" width="22.80" height="3.610" fill="#7ec54a" stroke="#3c8012" stroke-width="1.2"/>
<rect x="229.91" y="245.684" width="22.80" height="3.610" fill="#7ec54a" stroke="#3c8012" stroke-width="1.2"/>
<rect x="229.91" y="249.295" width="22.80" height="3.610" fill="#7ec54a" stroke="#3c8012" stroke-width="1.2"/>
<rect x="229.91" y="252.905" width="22.80" height="3.610" fill="#7ec54a" stroke="#3c8012" stroke-width="1.2"/>
<rect x="229.91" y="256.516" width="22.80" height="3.610" fill="#7ec54a" stroke="#3c8012" stroke-width="1.2"/>
<rect x="229.91" y="260.126" width="22.80" height="3.610" fill="#ec117c" stroke="#b00a5c" stroke-width="1.2"/>
<rect x="229.91" y="263.736" width="22.80" height="3.610" fill="#7ec54a" stroke="#3c8012" stroke-width="1.2"/>
<path d="M47.55 25.45V267.35M70.34 25.45V267.35M93.14 25.45V267.35M115.93 25.45V267.35M138.73 25.45V267.35M161.52 25.45V267.35M184.31 25.45V267.35M207.11 25.45V267.35M229.91 25.45V267.35" stroke="#041400" stroke-width="0.7" fill="none" opacity="0.92"/>
<rect x="24.75" y="25.45" width="227.95" height="241.897" stroke="#234a0c" stroke-width="0.9" fill="none" opacity="0.9"/>
<text x="21.6" y="29.01" font-size="5.2" text-anchor="end" fill="#2e2e40">1</text>
<text x="21.6" y="36.23" font-size="5.2" text-anchor="end" fill="#2e2e40">3</text>
<text x="21.6" y="43.45" font-size="5.2" text-anchor="end" fill="#2e2e40">5</text>
<text x="21.6" y="50.67" font-size="5.2" text-anchor="end" fill="#2e2e40">7</text>
<text x="21.6" y="57.89" font-size="5.2" text-anchor="end" fill="#2e2e40">9</text>
<text x="21.6" y="65.11" font-size="5.2" text-anchor="end" fill="#2e2e40">11</text>
<text x="21.6" y="72.33" font-size="5.2" text-anchor="end" fill="#2e2e40">13</text>
<text x="21.6" y="79.55" font-size="5.2" text-anchor="end" fill="#2e2e40">15</text>
<text x="21.6" y="86.77" font-size="5.2" text-anchor="end" fill="#2e2e40">17</text>
<text x="21.6" y="93.99" font-size="5.2" text-anchor="end" fill="#2e2e40">19</text>
<text x="21.6" y="101.21" font-size="5.2" text-anchor="end" fill="#2e2e40">21</text>
<text x="21.6" y="108.43" font-size="5.2" text-anchor="end" fill="#2e2e40">23</text>
<text x="21.6" y="115.65" font-size="5.2" text-anchor="end" fill="#2e2e40">25</text>
<text x="21.6" y="122.88" font-size="5.2" text-anchor="end" fill="#2e2e40">27</text>
<text x="21.6" y="130.10" font-size="5.2" text-anchor="end" fill="#2e2e40">29</text>
<text x="21.6" y="137.32" font-size="5.2" text-anchor="end" fill="#2e2e40">31</text>
<text x="21.6" y="144.54" font-size="5.2" text-anchor="end" fill="#2e2e40">33</text>
<text x="21.6" y="151.76" font-size="5.2" text-anchor="end" fill="#2e2e40">35</text>
<text x="21.6" y="158.98" font-size="5.2" text-anchor="end" fill="#2e2e40">37</text>
<text x="21.6" y="166.20" font-size="5.2" text-anchor="end" fill="#2e2e40">39</text>
<text x="21.6" y="173.42" font-size="5.2" text-anchor="end" fill="#2e2e40">41</text>
<text x="21.6" y="180.64" font-size="5.2" text-anchor="end" fill="#2e2e40">43</text>
<text x="21.6" y="187.86" font-size="5.2" text-anchor="end" fill="#2e2e40">45</text>
<text x="21.6" y="195.08" font-size="5.2" text-anchor="end" fill="#2e2e40">47</text>
<text x="21.6" y="202.30" font-size="5.2" text-anchor="end" fill="#2e2e40">49</text>
<text x="21.6" y="209.53" font-size="5.2" text-anchor="end" fill="#2e2e40">51</text>
<text x="21.6" y="216.75" font-size="5.2" text-anchor="end" fill="#2e2e40">53</text>
<text x="21.6" y="223.97" font-size="5.2" text-anchor="end" fill="#2e2e40">55</text>
<text x="21.6" y="231.19" font-size="5.2" text-anchor="end" fill="#2e2e40">57</text>
<text x="21.6" y="238.41" font-size="5.2" text-anchor="end" fill="#2e2e40">59</text>
<text x="21.6" y="245.63" font-size="5.2" text-anchor="end" fill="#2e2e40">61</text>
<text x="21.6" y="252.85" font-size="5.2" text-anchor="end" fill="#2e2e40">63</text>
<text x="21.6" y="260.07" font-size="5.2" text-anchor="end" fill="#2e2e40">65</text>
<text x="21.6" y="267.29" font-size="5.2" text-anchor="end" fill="#2e2e40">67</text>
<text transform="translate(12.7 146.3) rotate(-90)" font-size="5.7" text-anchor="middle" fill="#2e2e38">Patient ID</text>
<text transform="translate(40.05 273.6) rotate(-45)" font-size="5.9" text-anchor="end" fill="#3c3c4a">Gait</text>
<text transform="translate(62.84 273.6) rotate(-45)" font-size="5.9" text-anchor="end" fill="#3c3c4a">MNA</text>
<text transform="translate(85.64 273.6) rotate(-45)" font-size="5.9" text-anchor="end" fill="#3c3c4a">CCI</text>
<text transform="translate(108.43 273.6) rotate(-45)" font-size="5.9" text-anchor="end" fill="#3c3c4a">GDS</text>
<text transform="translate(131.23 273.6) rotate(-45)" font-size="5.9" text-anchor="end" fill="#3c3c4a">SMI</text>
<text transform="translate(154.02 273.6) rotate(-45)" font-size="5.9" text-anchor="end" fill="#3c3c4a">MRA</text>
<text transform="translate(176.82 273.6) rotate(-45)" font-size="5.9" text-anchor="end" fill="#3c3c4a">Grip</text>
<text transform="translate(199.61 273.6) rotate(-45)" font-size="5.9" text-anchor="end" fill="#3c3c4a">iADL</text>
<text transform="translate(222.41 273.6) rotate(-45)" font-size="5.9" text-anchor="end" fill="#3c3c4a">MMSE</text>
<text transform="translate(245.20 273.6) rotate(-45)" font-size="5.9" text-anchor="end" fill="#3c3c4a">ADL</text>
<rect x="40.3" y="289.6" width="22.3" height="3.6" fill="#7ec54a" stroke="#2a3a1a" stroke-width="0.7"/>
<text x="65.9" y="293.4" font-size="5.55" fill="#222">No impairment</text>
<rect x="112.3" y="289.6" width="22.9" height="3.6" fill="#ec117c" stroke="#5a1030" stroke-width="0.7"/>
<text x="138" y="293.4" font-size="5.5" fill="#222">Moderate or severe impairment</text>
<text transform="translate(272.2 16.0) scale(0.9 1)" x="0" y="0" font-size="11.4" font-weight="bold" fill="#111">B</text>
<rect x="286.30" y="24.30" width="22.80" height="24.35" fill="#6db43e"/>
<text transform="translate(290.87 40.27) scale(0.91 1)" font-size="6.0" fill="#fffaf0" opacity="0.92">1.000</text>
<rect x="286.30" y="48.65" width="22.80" height="24.35" fill="#e42a50"/>
<text transform="translate(290.06 59.98) scale(0.91 1)" font-size="6.0" fill="#fffaf0" opacity="0.92">-0.112</text>
<text transform="translate(290.06 66.03) scale(0.91 1)" font-size="6.0" fill="#fffaf0" opacity="0.92">0.336</text>
<rect x="309.10" y="48.65" width="22.80" height="24.35" fill="#6db43e"/>
<text transform="translate(313.67 62.93) scale(0.91 1)" font-size="6.0" fill="#fffaf0" opacity="0.92">1.000</text>
<rect x="286.30" y="73.00" width="22.80" height="24.35" fill="#f07d12"/>
<text transform="translate(290.97 84.33) scale(0.91 1)" font-size="6.0" fill="#fffaf0" opacity="0.92">0.096</text>
<text transform="translate(290.97 90.38) scale(0.91 1)" font-size="6.0" fill="#fffaf0" opacity="0.92">0.213</text>
<rect x="309.10" y="73.00" width="22.80" height="24.35" fill="#e60e7c"/>
<text transform="translate(312.86 84.33) scale(0.91 1)" font-size="6.0" fill="#fffaf0" opacity="0.92">-0.215</text>
<text transform="translate(312.86 90.38) scale(0.91 1)" font-size="6.0" fill="#fffaf0" opacity="0.92">0.005</text>
<path d="M313.06 85.08h14.98M313.06 91.12h13.16" stroke="#fffaf0" stroke-width="0.4" opacity="0.85"/>
<rect x="331.90" y="73.00" width="22.80" height="24.35" fill="#6db43e"/>
<text transform="translate(336.47 87.27) scale(0.91 1)" font-size="6.0" fill="#fffaf0" opacity="0.92">1.000</text>
<rect x="286.30" y="97.35" width="22.80" height="24.35" fill="#f09f0c"/>
<text transform="translate(290.97 108.68) scale(0.91 1)" font-size="6.0" fill="#fffaf0" opacity="0.92">0.194</text>
<text transform="translate(290.97 114.73) scale(0.91 1)" font-size="6.0" fill="#fffaf0" opacity="0.92">0.109</text>
<rect x="309.10" y="97.35" width="22.80" height="24.35" fill="#e60e7c"/>
<text transform="translate(312.18 108.68) scale(0.91 1)" font-size="6.0" fill="#fffaf0" opacity="0.92">-0.370</text>
<text transform="translate(312.18 114.73) scale(0.91 1)" font-size="6.0" fill="#fffaf0" opacity="0.92">&lt;0.001</text>
<path d="M312.38 109.43h14.98M312.38 115.48h16.35" stroke="#fffaf0" stroke-width="0.4" opacity="0.85"/>
<rect x="331.90" y="97.35" width="22.80" height="24.35" fill="#f07d12"/>
<text transform="translate(336.57 108.68) scale(0.91 1)" font-size="6.0" fill="#fffaf0" opacity="0.92">0.056</text>
<text transform="translate(336.57 114.73) scale(0.91 1)" font-size="6.0" fill="#fffaf0" opacity="0.92">0.451</text>
<rect x="354.70" y="97.35" width="22.80" height="24.35" fill="#6db43e"/>
<text transform="translate(359.27 111.62) scale(0.91 1)" font-size="6.0" fill="#fffaf0" opacity="0.92">1.000</text>
<rect x="286.30" y="121.70" width="22.80" height="24.35" fill="#e8443c"/>
<text transform="translate(290.06 133.03) scale(0.91 1)" font-size="6.0" fill="#fffaf0" opacity="0.92">-0.051</text>
<text transform="translate(290.06 139.07) scale(0.91 1)" font-size="6.0" fill="#fffaf0" opacity="0.92">0.509</text>
<rect x="309.10" y="121.70" width="22.80" height="24.35" fill="#f09f0c"/>
<text transform="translate(313.77 133.03) scale(0.91 1)" font-size="6.0" fill="#fffaf0" opacity="0.92">0.127</text>
<text transform="translate(313.77 139.07) scale(0.91 1)" font-size="6.0" fill="#fffaf0" opacity="0.92">0.099</text>
<rect x="331.90" y="121.70" width="22.80" height="24.35" fill="#f09f0c"/>
<text transform="translate(336.57 133.03) scale(0.91 1)" font-size="6.0" fill="#fffaf0" opacity="0.92">0.124</text>
<text transform="translate(336.57 139.07) scale(0.91 1)" font-size="6.0" fill="#fffaf0" opacity="0.92">0.105</text>
<rect x="354.70" y="121.70" width="22.80" height="24.35" fill="#e8443c"/>
<text transform="translate(358.46 133.03) scale(0.91 1)" font-size="6.0" fill="#fffaf0" opacity="0.92">-0.024</text>
<text transform="translate(358.46 139.07) scale(0.91 1)" font-size="6.0" fill="#fffaf0" opacity="0.92">0.751</text>
<rect x="377.50" y="121.70" width="22.80" height="24.35" fill="#6db43e"/>
<text transform="translate(382.07 135.97) scale(0.91 1)" font-size="6.0" fill="#fffaf0" opacity="0.92">1.000</text>
<rect x="286.30" y="146.05" width="22.80" height="24.35" fill="#e60e7c"/>
<text transform="translate(290.06 157.38) scale(0.91 1)" font-size="6.0" fill="#fffaf0" opacity="0.92">-0.219</text>
<text transform="translate(290.06 163.43) scale(0.91 1)" font-size="6.0" fill="#fffaf0" opacity="0.92">0.004</text>
<path d="M290.26 158.13h14.98M290.26 164.18h13.16" stroke="#fffaf0" stroke-width="0.4" opacity="0.85"/>
<rect x="309.10" y="146.05" width="22.80" height="24.35" fill="#ee5f26"/>
<text transform="translate(313.77 157.38) scale(0.91 1)" font-size="6.0" fill="#fffaf0" opacity="0.92">0.013</text>
<text transform="translate(313.77 163.43) scale(0.91 1)" font-size="6.0" fill="#fffaf0" opacity="0.92">0.862</text>
<rect x="331.90" y="146.05" width="22.80" height="24.35" fill="#e60e7c"/>
<text transform="translate(335.66 157.38) scale(0.91 1)" font-size="6.0" fill="#fffaf0" opacity="0.92">-0.215</text>
<text transform="translate(335.66 163.43) scale(0.91 1)" font-size="6.0" fill="#fffaf0" opacity="0.92">0.005</text>
<path d="M335.86 158.13h14.98M335.86 164.18h13.16" stroke="#fffaf0" stroke-width="0.4" opacity="0.85"/>
<rect x="354.70" y="146.05" width="22.80" height="24.35" fill="#ee5f26"/>
<text transform="translate(359.37 157.38) scale(0.91 1)" font-size="6.0" fill="#fffaf0" opacity="0.92">0.002</text>
<text transform="translate(359.37 163.43) scale(0.91 1)" font-size="6.0" fill="#fffaf0" opacity="0.92">0.982</text>
<rect x="377.50" y="146.05" width="22.80" height="24.35" fill="#f09f0c"/>
<text transform="translate(382.17 157.38) scale(0.91 1)" font-size="6.0" fill="#fffaf0" opacity="0.92">0.139</text>
<text transform="translate(382.17 163.43) scale(0.91 1)" font-size="6.0" fill="#fffaf0" opacity="0.92">0.071</text>
<rect x="400.30" y="146.05" width="22.80" height="24.35" fill="#6db43e"/>
<text transform="translate(404.87 160.33) scale(0.91 1)" font-size="6.0" fill="#fffaf0" opacity="0.92">1.000</text>
<rect x="286.30" y="170.40" width="22.80" height="24.35" fill="#e60e7c"/>
<text transform="translate(289.38 181.73) scale(0.91 1)" font-size="6.0" fill="#fffaf0" opacity="0.92">-0.286</text>
<text transform="translate(289.38 187.78) scale(0.91 1)" font-size="6.0" fill="#fffaf0" opacity="0.92">&lt;0.001</text>
<path d="M289.58 182.48h14.98M289.58 188.53h16.35" stroke="#fffaf0" stroke-width="0.4" opacity="0.85"/>
<rect x="309.10" y="170.40" width="22.80" height="24.35" fill="#f07d12"/>
<text transform="translate(313.77 181.73) scale(0.91 1)" font-size="6.0" fill="#fffaf0" opacity="0.92">0.075</text>
<text transform="translate(313.77 187.78) scale(0.91 1)" font-size="6.0" fill="#fffaf0" opacity="0.92">0.329</text>
<rect x="331.90" y="170.40" width="22.80" height="24.35" fill="#ee5f26"/>
<text transform="translate(336.57 181.73) scale(0.91 1)" font-size="6.0" fill="#fffaf0" opacity="0.92">0.018</text>
<text transform="translate(336.57 187.78) scale(0.91 1)" font-size="6.0" fill="#fffaf0" opacity="0.92">0.817</text>
<rect x="354.70" y="170.40" width="22.80" height="24.35" fill="#e8443c"/>
<text transform="translate(358.46 181.73) scale(0.91 1)" font-size="6.0" fill="#fffaf0" opacity="0.92">-0.001</text>
<text transform="translate(358.46 187.78) scale(0.91 1)" font-size="6.0" fill="#fffaf0" opacity="0.92">0.988</text>
<rect x="377.50" y="170.40" width="22.80" height="24.35" fill="#9fc31e"/>
<text transform="translate(380.58 181.73) scale(0.91 1)" font-size="6.0" fill="#fffaf0" opacity="0.92">0.427</text>
<text transform="translate(380.58 187.78) scale(0.91 1)" font-size="6.0" fill="#fffaf0" opacity="0.92">&lt;0.001</text>
<path d="M380.78 182.48h13.16M380.78 188.53h16.35" stroke="#fffaf0" stroke-width="0.4" opacity="0.85"/>
<rect x="400.30" y="170.40" width="22.80" height="24.35" fill="#f09f0c"/>
<text transform="translate(404.97 181.73) scale(0.91 1)" font-size="6.0" fill="#fffaf0" opacity="0.92">0.104</text>
<text transform="translate(404.97 187.78) scale(0.91 1)" font-size="6.0" fill="#fffaf0" opacity="0.92">0.175</text>
<rect x="423.10" y="170.40" width="22.80" height="24.35" fill="#6db43e"/>
<text transform="translate(427.67 184.68) scale(0.91 1)" font-size="6.0" fill="#fffaf0" opacity="0.92">1.000</text>
<rect x="286.30" y="194.75" width="22.80" height="24.35" fill="#e42a50"/>
<text transform="translate(290.06 206.08) scale(0.91 1)" font-size="6.0" fill="#fffaf0" opacity="0.92">-0.176</text>
<text transform="translate(290.06 212.13) scale(0.91 1)" font-size="6.0" fill="#fffaf0" opacity="0.92">0.021</text>
<rect x="309.10" y="194.75" width="22.80" height="24.35" fill="#f07d12"/>
<text transform="translate(313.77 206.08) scale(0.91 1)" font-size="6.0" fill="#fffaf0" opacity="0.92">0.092</text>
<text transform="translate(313.77 212.13) scale(0.91 1)" font-size="6.0" fill="#fffaf0" opacity="0.92">0.230</text>
<rect x="331.90" y="194.75" width="22.80" height="24.35" fill="#e42a50"/>
<text transform="translate(335.66 206.08) scale(0.91 1)" font-size="6.0" fill="#fffaf0" opacity="0.92">-0.122</text>
<text transform="translate(335.66 212.13) scale(0.91 1)" font-size="6.0" fill="#fffaf0" opacity="0.92">0.111</text>
<rect x="354.70" y="194.75" width="22.80" height="24.35" fill="#e42a50"/>
<text transform="translate(358.46 206.08) scale(0.91 1)" font-size="6.0" fill="#fffaf0" opacity="0.92">-0.163</text>
<text transform="translate(358.46 212.13) scale(0.91 1)" font-size="6.0" fill="#fffaf0" opacity="0.92">0.033</text>
<rect x="377.50" y="194.75" width="22.80" height="24.35" fill="#f07d12"/>
<text transform="translate(382.17 206.08) scale(0.91 1)" font-size="6.0" fill="#fffaf0" opacity="0.92">0.051</text>
<text transform="translate(382.17 212.13) scale(0.91 1)" font-size="6.0" fill="#fffaf0" opacity="0.92">0.505</text>
<rect x="400.30" y="194.75" width="22.80" height="24.35" fill="#b4ba16"/>
<text transform="translate(404.97 206.08) scale(0.91 1)" font-size="6.0" fill="#fffaf0" opacity="0.92">0.231</text>
<text transform="translate(404.97 212.13) scale(0.91 1)" font-size="6.0" fill="#fffaf0" opacity="0.92">0.002</text>
<path d="M405.17 206.83h13.16M405.17 212.88h13.16" stroke="#fffaf0" stroke-width="0.4" opacity="0.85"/>
<rect x="423.10" y="194.75" width="22.80" height="24.35" fill="#f09f0c"/>
<text transform="translate(427.77 206.08) scale(0.91 1)" font-size="6.0" fill="#fffaf0" opacity="0.92">0.109</text>
<text transform="translate(427.77 212.13) scale(0.91 1)" font-size="6.0" fill="#fffaf0" opacity="0.92">0.157</text>
<rect x="445.90" y="194.75" width="22.80" height="24.35" fill="#6db43e"/>
<text transform="translate(450.47 209.03) scale(0.91 1)" font-size="6.0" fill="#fffaf0" opacity="0.92">1.000</text>
<rect x="286.30" y="219.10" width="22.80" height="24.35" fill="#e60e7c"/>
<text transform="translate(289.38 230.43) scale(0.91 1)" font-size="6.0" fill="#fffaf0" opacity="0.92">-0.266</text>
<text transform="translate(289.38 236.48) scale(0.91 1)" font-size="6.0" fill="#fffaf0" opacity="0.92">&lt;0.001</text>
<path d="M289.58 231.18h14.98M289.58 237.23h16.35" stroke="#fffaf0" stroke-width="0.4" opacity="0.85"/>
<rect x="309.10" y="219.10" width="22.80" height="24.35" fill="#f09f0c"/>
<text transform="translate(313.77 230.43) scale(0.91 1)" font-size="6.0" fill="#fffaf0" opacity="0.92">0.131</text>
<text transform="translate(313.77 236.48) scale(0.91 1)" font-size="6.0" fill="#fffaf0" opacity="0.92">0.087</text>
<rect x="331.90" y="219.10" width="22.80" height="24.35" fill="#e8443c"/>
<text transform="translate(335.66 230.43) scale(0.91 1)" font-size="6.0" fill="#fffaf0" opacity="0.92">-0.008</text>
<text transform="translate(335.66 236.48) scale(0.91 1)" font-size="6.0" fill="#fffaf0" opacity="0.92">0.920</text>
<rect x="354.70" y="219.10" width="22.80" height="24.35" fill="#b4ba16"/>
<text transform="translate(359.37 230.43) scale(0.91 1)" font-size="6.0" fill="#fffaf0" opacity="0.92">0.182</text>
<text transform="translate(359.37 236.48) scale(0.91 1)" font-size="6.0" fill="#fffaf0" opacity="0.92">0.017</text>
<rect x="377.50" y="219.10" width="22.80" height="24.35" fill="#b4ba16"/>
<text transform="translate(382.17 230.43) scale(0.91 1)" font-size="6.0" fill="#fffaf0" opacity="0.92">0.149</text>
<text transform="translate(382.17 236.48) scale(0.91 1)" font-size="6.0" fill="#fffaf0" opacity="0.92">0.053</text>
<rect x="400.30" y="219.10" width="22.80" height="24.35" fill="#b4ba16"/>
<text transform="translate(404.97 230.43) scale(0.91 1)" font-size="6.0" fill="#fffaf0" opacity="0.92">0.184</text>
<text transform="translate(404.97 236.48) scale(0.91 1)" font-size="6.0" fill="#fffaf0" opacity="0.92">0.016</text>
<rect x="423.10" y="219.10" width="22.80" height="24.35" fill="#f07d12"/>
<text transform="translate(427.77 230.43) scale(0.91 1)" font-size="6.0" fill="#fffaf0" opacity="0.92">0.091</text>
<text transform="translate(427.77 236.48) scale(0.91 1)" font-size="6.0" fill="#fffaf0" opacity="0.92">0.238</text>
<rect x="445.90" y="219.10" width="22.80" height="24.35" fill="#b4ba16"/>
<text transform="translate(450.57 230.43) scale(0.91 1)" font-size="6.0" fill="#fffaf0" opacity="0.92">0.200</text>
<text transform="translate(450.57 236.48) scale(0.91 1)" font-size="6.0" fill="#fffaf0" opacity="0.92">0.009</text>
<rect x="468.70" y="219.10" width="22.80" height="24.35" fill="#6db43e"/>
<text transform="translate(473.27 233.38) scale(0.91 1)" font-size="6.0" fill="#fffaf0" opacity="0.92">1.000</text>
<rect x="286.30" y="243.45" width="22.80" height="24.35" fill="#f09f0c"/>
<text transform="translate(290.97 254.78) scale(0.91 1)" font-size="6.0" fill="#fffaf0" opacity="0.92">0.107</text>
<text transform="translate(290.97 260.83) scale(0.91 1)" font-size="6.0" fill="#fffaf0" opacity="0.92">0.163</text>
<rect x="309.10" y="243.45" width="22.80" height="24.35" fill="#b4ba16"/>
<text transform="translate(313.77 254.78) scale(0.91 1)" font-size="6.0" fill="#fffaf0" opacity="0.92">0.178</text>
<text transform="translate(313.77 260.83) scale(0.91 1)" font-size="6.0" fill="#fffaf0" opacity="0.92">0.020</text>
<rect x="331.90" y="243.45" width="22.80" height="24.35" fill="#f07d12"/>
<text transform="translate(336.57 254.78) scale(0.91 1)" font-size="6.0" fill="#fffaf0" opacity="0.92">0.078</text>
<text transform="translate(336.57 260.83) scale(0.91 1)" font-size="6.0" fill="#fffaf0" opacity="0.92">0.309</text>
<rect x="354.70" y="243.45" width="22.80" height="24.35" fill="#e42a50"/>
<text transform="translate(358.46 254.78) scale(0.91 1)" font-size="6.0" fill="#fffaf0" opacity="0.92">-0.148</text>
<text transform="translate(358.46 260.83) scale(0.91 1)" font-size="6.0" fill="#fffaf0" opacity="0.92">0.053</text>
<rect x="377.50" y="243.45" width="22.80" height="24.35" fill="#f09f0c"/>
<text transform="translate(382.17 254.78) scale(0.91 1)" font-size="6.0" fill="#fffaf0" opacity="0.92">0.137</text>
<text transform="translate(382.17 260.83) scale(0.91 1)" font-size="6.0" fill="#fffaf0" opacity="0.92">0.074</text>
<rect x="400.30" y="243.45" width="22.80" height="24.35" fill="#ee5f26"/>
<text transform="translate(404.97 254.78) scale(0.91 1)" font-size="6.0" fill="#fffaf0" opacity="0.92">0.030</text>
<text transform="translate(404.97 260.83) scale(0.91 1)" font-size="6.0" fill="#fffaf0" opacity="0.92">0.694</text>
<rect x="423.10" y="243.45" width="22.80" height="24.35" fill="#ee5f26"/>
<text transform="translate(427.77 254.78) scale(0.91 1)" font-size="6.0" fill="#fffaf0" opacity="0.92">0.033</text>
<text transform="translate(427.77 260.83) scale(0.91 1)" font-size="6.0" fill="#fffaf0" opacity="0.92">0.671</text>
<rect x="445.90" y="243.45" width="22.80" height="24.35" fill="#f07d12"/>
<text transform="translate(450.57 254.78) scale(0.91 1)" font-size="6.0" fill="#fffaf0" opacity="0.92">0.099</text>
<text transform="translate(450.57 260.83) scale(0.91 1)" font-size="6.0" fill="#fffaf0" opacity="0.92">0.198</text>
<rect x="468.70" y="243.45" width="22.80" height="24.35" fill="#f09f0c"/>
<text transform="translate(473.37 254.78) scale(0.91 1)" font-size="6.0" fill="#fffaf0" opacity="0.92">0.104</text>
<text transform="translate(473.37 260.83) scale(0.91 1)" font-size="6.0" fill="#fffaf0" opacity="0.92">0.175</text>
<rect x="491.50" y="243.45" width="22.80" height="24.35" fill="#6db43e"/>
<text transform="translate(496.07 257.73) scale(0.91 1)" font-size="6.0" fill="#fffaf0" opacity="0.92">1.000</text>
<path d="M286.30 24.30H309.10M286.30 24.30V48.65M309.10 24.30V48.65M286.30 48.65H331.90M286.30 48.65V73.00M309.10 48.65V73.00M331.90 48.65V73.00M286.30 73.00H354.70M286.30 73.00V97.35M309.10 73.00V97.35M331.90 73.00V97.35M354.70 73.00V97.35M286.30 97.35H377.50M286.30 97.35V121.70M309.10 97.35V121.70M331.90 97.35V121.70M354.70 97.35V121.70M377.50 97.35V121.70M286.30 121.70H400.30M286.30 121.70V146.05M309.10 121.70V146.05M331.90 121.70V146.05M354.70 121.70V146.05M377.50 121.70V146.05M400.30 121.70V146.05M286.30 146.05H423.10M286.30 146.05V170.40M309.10 146.05V170.40M331.90 146.05V170.40M354.70 146.05V170.40M377.50 146.05V170.40M400.30 146.05V170.40M423.10 146.05V170.40M286.30 170.40H445.90M286.30 170.40V194.75M309.10 170.40V194.75M331.90 170.40V194.75M354.70 170.40V194.75M377.50 170.40V194.75M400.30 170.40V194.75M423.10 170.40V194.75M445.90 170.40V194.75M286.30 194.75H468.70M286.30 194.75V219.10M309.10 194.75V219.10M331.90 194.75V219.10M354.70 194.75V219.10M377.50 194.75V219.10M400.30 194.75V219.10M423.10 194.75V219.10M445.90 194.75V219.10M468.70 194.75V219.10M286.30 219.10H491.50M286.30 219.10V243.45M309.10 219.10V243.45M331.90 219.10V243.45M354.70 219.10V243.45M377.50 219.10V243.45M400.30 219.10V243.45M423.10 219.10V243.45M445.90 219.10V243.45M468.70 219.10V243.45M491.50 219.10V243.45M286.30 243.45H514.30M286.30 243.45V267.80M309.10 243.45V267.80M331.90 243.45V267.80M354.70 243.45V267.80M377.50 243.45V267.80M400.30 243.45V267.80M423.10 243.45V267.80M445.90 243.45V267.80M468.70 243.45V267.80M491.50 243.45V267.80M514.30 243.45V267.80M286.30 267.80H514.30" stroke="#3a2a10" stroke-width="0.75" fill="none" opacity="0.8"/>
<text x="283.2" y="40.38" font-size="5.6" text-anchor="end" fill="#444">Gait</text>
<text x="283.2" y="64.73" font-size="5.6" text-anchor="end" fill="#444">MNA</text>
<text x="283.2" y="89.08" font-size="5.6" text-anchor="end" fill="#444">CCI</text>
<text x="283.2" y="113.43" font-size="5.6" text-anchor="end" fill="#444">GDS</text>
<text x="283.2" y="137.78" font-size="5.6" text-anchor="end" fill="#444">SMI</text>
<text x="283.2" y="162.13" font-size="5.6" text-anchor="end" fill="#444">MRA</text>
<text x="283.2" y="186.48" font-size="5.6" text-anchor="end" fill="#444">Grip</text>
<text x="283.2" y="210.83" font-size="5.6" text-anchor="end" fill="#444">iADL</text>
<text x="283.2" y="235.18" font-size="5.6" text-anchor="end" fill="#444">MMSE</text>
<text x="283.2" y="259.53" font-size="5.6" text-anchor="end" fill="#444">ADL</text>
<text transform="translate(301.90 274.4) rotate(-45)" font-size="5.6" text-anchor="end" fill="#555">Gait</text>
<text transform="translate(324.70 274.4) rotate(-45)" font-size="5.6" text-anchor="end" fill="#555">MNA</text>
<text transform="translate(347.50 274.4) rotate(-45)" font-size="5.6" text-anchor="end" fill="#555">CCI</text>
<text transform="translate(370.30 274.4) rotate(-45)" font-size="5.6" text-anchor="end" fill="#555">GDS</text>
<text transform="translate(393.10 274.4) rotate(-45)" font-size="5.6" text-anchor="end" fill="#555">SMI</text>
<text transform="translate(415.90 274.4) rotate(-45)" font-size="5.6" text-anchor="end" fill="#555">MRA</text>
<text transform="translate(438.70 274.4) rotate(-45)" font-size="5.6" text-anchor="end" fill="#555">Grip</text>
<text transform="translate(461.50 274.4) rotate(-45)" font-size="5.6" text-anchor="end" fill="#555">iADL</text>
<text transform="translate(484.30 274.4) rotate(-45)" font-size="5.6" text-anchor="end" fill="#555">MMSE</text>
<text transform="translate(507.10 274.4) rotate(-45)" font-size="5.6" text-anchor="end" fill="#555">ADL</text>
<defs><linearGradient id="cbg" x1="0" y1="0" x2="0" y2="1"><stop offset="0.0312" stop-color="#9cc31e"/><stop offset="0.0938" stop-color="#9cc31e"/><stop offset="0.1562" stop-color="#c2b512"/><stop offset="0.2188" stop-color="#c2b512"/><stop offset="0.2812" stop-color="#eaa00e"/><stop offset="0.3438" stop-color="#eaa00e"/><stop offset="0.4062" stop-color="#f07d14"/><stop offset="0.4688" stop-color="#f07d14"/><stop offset="0.5312" stop-color="#ed5e28"/><stop offset="0.5938" stop-color="#ed5e28"/><stop offset="0.6562" stop-color="#e8463a"/><stop offset="0.7188" stop-color="#e8463a"/><stop offset="0.7812" stop-color="#e42c50"/><stop offset="0.8438" stop-color="#e42c50"/><stop offset="0.9062" stop-color="#e2177a"/><stop offset="0.9688" stop-color="#e2177a"/></linearGradient></defs>
<rect x="461.9" y="53.90" width="10.0" height="66.40" fill="url(#cbg)"/>
<text x="474.3" y="60.05" font-size="5.5" fill="#2a2a2a">0.427</text>
<text x="474.3" y="68.35" font-size="5.5" fill="#2a2a2a">0.231</text>
<text x="474.3" y="76.65" font-size="5.5" fill="#2a2a2a">0.139</text>
<text x="474.3" y="84.95" font-size="5.5" fill="#2a2a2a">0.099</text>
<text x="474.3" y="93.25" font-size="5.5" fill="#2a2a2a">0.030</text>
<text x="474.3" y="101.55" font-size="5.5" fill="#2a2a2a">-0.001</text>
<text x="474.3" y="109.85" font-size="5.5" fill="#2a2a2a">-0.112</text>
<text x="474.3" y="118.15" font-size="5.5" fill="#2a2a2a">-0.215</text>
</g>
<rect x="0.6" y="0.6" width="518.8" height="299.8" fill="none" stroke="#5a5a5a" stroke-width="1.4"/>
</svg></body></html>
